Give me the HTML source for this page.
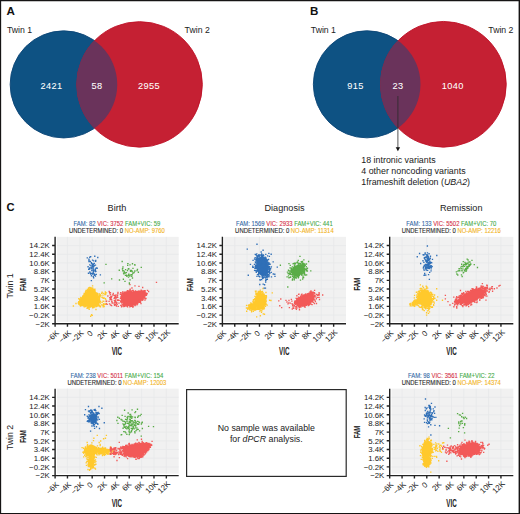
<!DOCTYPE html><html><head><meta charset="utf-8"><style>html,body{margin:0;padding:0;background:#fff;overflow:hidden}svg{display:block}text{font-family:"Liberation Sans", sans-serif}</style></head><body><svg width="520" height="514" viewBox="0 0 520 514"><rect x="0" y="0" width="520" height="514" fill="#fff"/><defs><clipPath id="cpa"><circle cx="139.6" cy="84.4" r="63.2"/></clipPath></defs><circle cx="63.7" cy="84.4" r="53.55" fill="#0E5283" stroke="#0B4576" stroke-width="0.9"/><circle cx="139.6" cy="84.4" r="62.75" fill="#C52033" stroke="#BE0F25" stroke-width="0.9"/><circle cx="63.7" cy="84.4" r="53.55" fill="#6A335B" clip-path="url(#cpa)"/><defs><clipPath id="cpb"><circle cx="443.4" cy="84.3" r="63.3"/></clipPath></defs><circle cx="366.9" cy="84.3" r="53.55" fill="#0E5283" stroke="#0B4576" stroke-width="0.9"/><circle cx="443.4" cy="84.3" r="62.849999999999994" fill="#C52033" stroke="#BE0F25" stroke-width="0.9"/><circle cx="366.9" cy="84.3" r="53.55" fill="#6A335B" clip-path="url(#cpb)"/><text x="6.5" y="14.8" font-size="11.6" fill="#111" text-anchor="start" font-weight="bold" >A</text><text x="310" y="15.2" font-size="11.6" fill="#111" text-anchor="start" font-weight="bold" >B</text><text x="6.5" y="210.7" font-size="11.2" fill="#111" text-anchor="start" font-weight="bold" >C</text><text transform="translate(7 33.2) scale(0.88 1)" font-size="9.9" fill="#222" text-anchor="start">Twin 1</text><text transform="translate(184.6 33.1) scale(0.88 1)" font-size="9.9" fill="#222" text-anchor="start">Twin 2</text><text transform="translate(310.8 33.1) scale(0.88 1)" font-size="9.9" fill="#222" text-anchor="start">Twin 1</text><text transform="translate(488.3 33) scale(0.88 1)" font-size="9.9" fill="#222" text-anchor="start">Twin 2</text><text x="51.55" y="89.05" font-size="9.2" fill="#fff" text-anchor="middle" font-weight="normal" letter-spacing="0.4" stroke="#fff" stroke-width="0.06">2421</text><text x="96.95" y="89.05" font-size="9.2" fill="#fff" text-anchor="middle" font-weight="normal" letter-spacing="0.4" stroke="#fff" stroke-width="0.06">58</text><text x="148.9" y="89.05" font-size="9.2" fill="#fff" text-anchor="middle" font-weight="normal" letter-spacing="0.4" stroke="#fff" stroke-width="0.06">2955</text><text x="355.5" y="89.05" font-size="9.2" fill="#fff" text-anchor="middle" font-weight="normal" letter-spacing="0.4" stroke="#fff" stroke-width="0.06">915</text><text x="398" y="89.05" font-size="9.2" fill="#fff" text-anchor="middle" font-weight="normal" letter-spacing="0.4" stroke="#fff" stroke-width="0.06">23</text><text x="452.85" y="89.05" font-size="9.2" fill="#fff" text-anchor="middle" font-weight="normal" letter-spacing="0.4" stroke="#fff" stroke-width="0.06">1040</text><path d="M397.9 96V148" stroke="#2a2a2a" stroke-width="0.8"/><path d="M395.7 147.2L400.1 147.2L397.9 151.2Z" fill="#111"/><text transform="translate(361.3 163.1) scale(0.942 1)" font-size="9.4" fill="#1a1a1a" text-anchor="start">18 intronic variants</text><text transform="translate(361.3 174.2) scale(0.942 1)" font-size="9.4" fill="#1a1a1a" text-anchor="start">4 other noncoding variants</text><text transform="translate(361.3 185.1) scale(0.942 1)" font-size="9.4" fill="#1a1a1a" text-anchor="start">1frameshift deletion (<tspan font-style="italic">UBA2</tspan>)</text><text transform="translate(117 210.8) scale(0.95 1)" font-size="9.6" fill="#222" text-anchor="middle">Birth</text><text transform="translate(284.5 210.8) scale(0.95 1)" font-size="9.6" fill="#222" text-anchor="middle">Diagnosis</text><text transform="translate(461.2 210.8) scale(0.95 1)" font-size="9.6" fill="#222" text-anchor="middle">Remission</text><text transform="translate(13.3 285.9) rotate(-90) scale(0.88 1)" font-size="9.9" fill="#222" text-anchor="middle">Twin 1</text><text transform="translate(13.3 437.5) rotate(-90) scale(0.88 1)" font-size="9.9" fill="#222" text-anchor="middle">Twin 2</text><rect x="57" y="236.86" width="121.7" height="84.94" fill="#F1F1F1"/><path d="M67.46 236.86V321.8M79.82 236.86V321.8M92.18 236.86V321.8M104.54 236.86V321.8M116.9 236.86V321.8M129.26 236.86V321.8M141.62 236.86V321.8M153.98 236.86V321.8M166.34 236.86V321.8M57 315.11H178.7M57 306.41H178.7M57 297.72H178.7M57 289.02H178.7M57 280.33H178.7M57 271.64H178.7M57 262.94H178.7M57 254.25H178.7M57 245.55H178.7" stroke="#E7E8EA" stroke-width="0.8" fill="none"/><rect x="224.3" y="236.86" width="121.7" height="84.94" fill="#F1F1F1"/><path d="M234.76 236.86V321.8M247.12 236.86V321.8M259.48 236.86V321.8M271.84 236.86V321.8M284.2 236.86V321.8M296.56 236.86V321.8M308.92 236.86V321.8M321.28 236.86V321.8M333.64 236.86V321.8M224.3 315.11H346M224.3 306.41H346M224.3 297.72H346M224.3 289.02H346M224.3 280.33H346M224.3 271.64H346M224.3 262.94H346M224.3 254.25H346M224.3 245.55H346" stroke="#E7E8EA" stroke-width="0.8" fill="none"/><rect x="391.6" y="236.86" width="121.7" height="84.94" fill="#F1F1F1"/><path d="M402.06 236.86V321.8M414.42 236.86V321.8M426.78 236.86V321.8M439.14 236.86V321.8M451.5 236.86V321.8M463.86 236.86V321.8M476.22 236.86V321.8M488.58 236.86V321.8M500.94 236.86V321.8M391.6 315.11H513.3M391.6 306.41H513.3M391.6 297.72H513.3M391.6 289.02H513.3M391.6 280.33H513.3M391.6 271.64H513.3M391.6 262.94H513.3M391.6 254.25H513.3M391.6 245.55H513.3" stroke="#E7E8EA" stroke-width="0.8" fill="none"/><rect x="57" y="388.66" width="121.7" height="84.94" fill="#F1F1F1"/><path d="M67.46 388.66V473.6M79.82 388.66V473.6M92.18 388.66V473.6M104.54 388.66V473.6M116.9 388.66V473.6M129.26 388.66V473.6M141.62 388.66V473.6M153.98 388.66V473.6M166.34 388.66V473.6M57 466.91H178.7M57 458.21H178.7M57 449.52H178.7M57 440.82H178.7M57 432.13H178.7M57 423.44H178.7M57 414.74H178.7M57 406.05H178.7M57 397.35H178.7" stroke="#E7E8EA" stroke-width="0.8" fill="none"/><rect x="391.6" y="388.66" width="121.7" height="84.94" fill="#F1F1F1"/><path d="M402.06 388.66V473.6M414.42 388.66V473.6M426.78 388.66V473.6M439.14 388.66V473.6M451.5 388.66V473.6M463.86 388.66V473.6M476.22 388.66V473.6M488.58 388.66V473.6M500.94 388.66V473.6M391.6 466.91H513.3M391.6 458.21H513.3M391.6 449.52H513.3M391.6 440.82H513.3M391.6 432.13H513.3M391.6 423.44H513.3M391.6 414.74H513.3M391.6 406.05H513.3M391.6 397.35H513.3" stroke="#E7E8EA" stroke-width="0.8" fill="none"/><g fill="#FFC92C"><polygon points="87.6,290.3 90.8,287.8 94.2,290.2 97.5,295.2 99.0,300.2 98.3,305.2 94.5,306.8 90.0,307.0 87.3,306.5 80.6,305.2 78.3,302.8 80.6,299.3 83.8,295.0"/></g><path d="M97.7 305.7h1.35M97.8 299.5h1.35M87.8 306.9h1.35M95.3 305.9h1.35M87.4 308.0h1.35M92.0 288.6h1.35M92.0 307.7h1.35M95.4 293.2h1.35M99.8 301.3h1.35M79.1 302.9h1.35M82.0 296.2h1.35M90.7 289.6h1.35M86.8 306.1h1.35M89.9 305.9h1.35M79.8 300.9h1.35M96.6 293.7h1.35M94.7 292.5h1.35M85.7 292.4h1.35M86.4 290.8h1.35M96.4 295.0h1.35M99.2 301.0h1.35M92.1 288.2h1.35M79.1 300.1h1.35M80.8 304.7h1.35M89.5 287.6h1.35M83.6 306.9h1.35M95.9 292.8h1.35M88.5 307.0h1.35M97.1 298.4h1.35M87.8 290.2h1.35M91.0 288.8h1.35M79.7 300.4h1.35M97.1 295.8h1.35M97.9 301.3h1.35M80.3 305.3h1.35M96.5 305.1h1.35M89.8 288.0h1.35M84.4 306.3h1.35M82.6 295.8h1.35M89.0 306.2h1.35M97.1 303.1h1.35M84.3 306.2h1.35M80.2 304.7h1.35M79.8 305.7h1.35M97.4 296.5h1.35M98.0 297.3h1.35M83.5 293.3h1.35M85.2 293.6h1.35M98.8 301.7h1.35M81.5 298.0h1.35M79.3 301.0h1.35M91.1 288.0h1.35M96.4 305.9h1.35M90.9 306.4h1.35M98.6 300.5h1.35M94.2 291.7h1.35M98.4 302.8h1.35M82.1 297.7h1.35M88.3 306.4h1.35M90.2 306.6h1.35M88.8 306.4h1.35M94.4 291.8h1.35M82.1 305.1h1.35M79.9 299.1h1.35M94.0 307.0h1.35M92.3 290.1h1.35M92.1 307.0h1.35M96.5 294.4h1.35M86.4 308.3h1.35M94.3 290.4h1.35M88.0 290.7h1.35M78.1 301.6h1.35M97.6 298.9h1.35M80.9 305.2h1.35M82.0 296.7h1.35M97.1 303.9h1.35M96.6 306.1h1.35M82.8 305.8h1.35M89.3 288.9h1.35M80.1 306.0h1.35M88.0 289.5h1.35M86.8 289.3h1.35M84.8 306.6h1.35M95.4 294.7h1.35M96.8 304.5h1.35M78.1 298.7h1.35M85.4 290.4h1.35M93.6 291.9h1.35M78.5 303.0h1.35M97.8 300.5h1.35M90.8 289.3h1.35M78.0 304.0h1.35M77.8 302.7h1.35M97.4 305.4h1.35M98.8 300.4h1.35M98.3 305.7h1.35M97.5 303.0h1.35M83.2 294.8h1.35M95.6 306.6h1.35M97.2 295.1h1.35M90.0 307.0h1.35M86.2 306.0h1.35M78.9 303.6h1.35M82.5 305.6h1.35M95.0 305.8h1.35M98.3 296.3h1.35M90.4 288.0h1.35M79.3 302.0h1.35M79.8 299.7h1.35M97.7 303.9h1.35M84.8 291.8h1.35M92.9 307.5h1.35M96.4 294.7h1.35M88.9 290.4h1.35M93.3 289.6h1.35M78.9 304.7h1.35M83.6 293.8h1.35M85.1 291.8h1.35M90.7 306.0h1.35M79.1 299.1h1.35M97.0 297.5h1.35M98.7 298.2h1.35M95.7 302.2h1.35M84.8 295.1h1.35M80.5 298.7h1.35M80.1 299.7h1.35M87.2 289.5h1.35M98.0 304.8h1.35M93.0 306.1h1.35M84.3 293.5h1.35M83.3 295.7h1.35M87.0 289.5h1.35M97.8 301.5h1.35M84.8 293.2h1.35M87.6 289.2h1.35M97.3 301.0h1.35M96.3 305.4h1.35M92.2 306.1h1.35M78.0 302.2h1.35M79.0 299.5h1.35M80.1 297.5h1.35M77.7 303.2h1.35M98.9 299.1h1.35M92.3 289.0h1.35M85.2 291.1h1.35M93.1 290.3h1.35M96.5 293.5h1.35M86.4 290.3h1.35M80.3 298.0h1.35M82.9 295.9h1.35M86.7 307.7h1.35M80.0 304.4h1.35M92.2 290.2h1.35M94.2 290.9h1.35M96.7 301.6h1.35M94.2 289.1h1.35M97.0 298.7h1.35M97.8 302.8h1.35M89.1 287.3h1.35M87.9 287.9h1.35M88.6 307.7h1.35M92.5 291.0h1.35M82.2 296.5h1.35M105.2 299.8h1.35M100.2 295.3h1.35M105.6 303.3h1.35M103.5 306.6h1.35M99.8 306.8h1.35M99.5 296.1h1.35M104.2 294.5h1.35M104.7 293.3h1.35M104.4 293.6h1.35M102.1 305.1h1.35M105.0 294.6h1.35M101.4 302.4h1.35M102.4 301.1h1.35M102.9 304.6h1.35M102.6 293.4h1.35M98.8 295.5h1.35M99.2 306.5h1.35M103.3 303.7h1.35M98.8 293.8h1.35M102.1 297.5h1.35M101.4 292.2h1.35M100.9 293.3h1.35M105.0 304.2h1.35M104.7 292.0h1.35M103.1 301.3h1.35M102.6 298.3h1.35M103.6 304.8h1.35M97.2 293.8h1.35M99.7 306.1h1.35M100.8 304.9h1.35M104.8 298.7h1.35M98.7 305.1h1.35M102.5 306.7h1.35M97.3 304.8h1.35M99.3 296.6h1.35M102.8 304.0h1.35M101.3 297.2h1.35M102.3 295.1h1.35M103.5 298.0h1.35M104.8 304.4h1.35M99.7 303.0h1.35M102.6 305.5h1.35M99.5 294.6h1.35M99.4 296.9h1.35M105.8 292.9h1.35M72.7 306.0h1.35M91.9 285.9h1.35M90.9 314.7h1.35M90.0 316.2h1.35M88.5 309.4h1.35M91.6 315.4h1.35M75.3 303.5h1.35M95.3 309.5h1.35" stroke="#FFC92C" stroke-width="1.35" fill="none"/><g fill="#F25958"><polygon points="122.7,292.8 130.4,291.5 138.1,291.3 144.2,291.4 146.8,293.5 144.2,297.8 139.6,300.9 137.3,303.2 135.8,305.4 128.8,306.1 123.5,305.8 122.3,301.7 121.9,296.3"/></g><path d="M110.9 299.7h1.35M110.2 296.6h1.35M111.1 296.3h1.35M108.9 303.9h1.35M111.3 301.3h1.35M109.0 297.6h1.35M110.6 305.3h1.35M109.4 298.0h1.35M105.5 301.3h1.35M111.8 294.8h1.35M110.1 299.5h1.35M111.1 301.6h1.35M112.2 302.8h1.35M112.6 293.3h1.35M106.0 301.1h1.35M109.8 304.8h1.35M111.5 303.0h1.35M105.7 303.9h1.35M110.9 305.6h1.35M109.4 299.6h1.35M109.8 292.7h1.35M109.6 294.7h1.35M107.2 296.0h1.35M113.0 295.0h1.35M108.4 301.3h1.35M106.5 304.4h1.35M110.2 298.2h1.35M109.0 293.0h1.35M110.7 297.5h1.35M114.5 301.3h1.35M113.6 304.0h1.35M120.6 297.6h1.35M120.1 305.4h1.35M113.7 300.4h1.35M115.5 303.3h1.35M119.7 294.2h1.35M120.8 295.9h1.35M120.0 292.6h1.35M117.7 300.2h1.35M114.9 297.7h1.35M117.1 297.4h1.35M121.3 306.3h1.35M114.6 304.5h1.35M121.2 294.7h1.35M114.6 296.7h1.35M114.0 297.7h1.35M115.9 303.4h1.35M114.1 302.3h1.35M119.2 300.3h1.35M115.2 301.7h1.35M116.8 299.9h1.35M117.0 300.2h1.35M121.6 298.0h1.35M121.3 298.4h1.35M122.0 291.8h1.35M115.9 297.1h1.35M119.8 298.4h1.35M120.9 306.7h1.35M114.5 296.0h1.35M121.5 297.8h1.35M113.9 305.4h1.35M115.0 300.0h1.35M120.2 302.1h1.35M116.0 297.3h1.35M121.5 294.1h1.35M117.3 299.9h1.35M116.5 304.4h1.35M115.8 306.0h1.35M116.1 302.6h1.35M117.3 292.5h1.35M113.5 298.4h1.35M120.2 296.9h1.35M115.3 298.3h1.35M118.3 303.1h1.35M115.7 302.8h1.35M116.9 295.2h1.35M114.1 295.6h1.35M116.6 295.9h1.35M115.5 305.1h1.35M117.2 293.5h1.35M117.6 306.4h1.35M115.3 294.8h1.35M114.2 301.7h1.35M130.2 291.3h1.35M127.8 290.9h1.35M122.8 302.5h1.35M122.2 304.7h1.35M137.7 302.0h1.35M141.4 299.1h1.35M132.0 290.3h1.35M136.1 291.6h1.35M120.0 301.4h1.35M141.5 300.3h1.35M129.3 289.6h1.35M126.9 305.4h1.35M126.3 293.3h1.35M123.4 305.7h1.35M141.9 298.7h1.35M122.3 299.7h1.35M123.6 292.2h1.35M138.8 302.2h1.35M121.6 294.1h1.35M132.9 291.6h1.35M140.0 291.1h1.35M130.6 292.1h1.35M138.2 291.5h1.35M146.5 293.6h1.35M125.4 292.5h1.35M129.2 306.7h1.35M126.6 292.1h1.35M140.5 290.2h1.35M141.0 291.7h1.35M134.3 292.4h1.35M137.3 302.4h1.35M130.8 305.7h1.35M140.9 299.8h1.35M144.4 290.6h1.35M145.3 294.7h1.35M121.8 301.1h1.35M141.3 298.0h1.35M129.3 305.8h1.35M121.5 302.9h1.35M121.4 304.9h1.35M140.2 291.2h1.35M134.8 290.9h1.35M128.9 292.2h1.35M121.3 296.9h1.35M144.2 298.2h1.35M143.4 291.7h1.35M126.1 306.1h1.35M143.0 291.0h1.35M131.0 306.3h1.35M132.3 306.3h1.35M126.8 306.3h1.35M132.5 290.4h1.35M135.6 292.2h1.35M145.8 295.0h1.35M122.7 305.0h1.35M130.7 305.3h1.35M120.9 295.0h1.35M144.3 294.7h1.35M122.2 293.7h1.35M121.3 299.4h1.35M124.8 292.1h1.35M127.2 292.0h1.35M137.0 302.9h1.35M141.0 292.3h1.35M129.9 306.2h1.35M128.6 292.0h1.35M124.8 293.1h1.35M130.8 304.3h1.35M121.2 301.0h1.35M132.5 306.7h1.35M120.5 298.2h1.35M141.1 290.9h1.35M141.5 291.1h1.35M143.0 297.6h1.35M139.6 300.3h1.35M146.0 294.4h1.35M131.4 290.7h1.35M143.8 290.6h1.35M141.8 297.7h1.35M138.9 301.8h1.35M145.3 294.1h1.35M126.7 290.6h1.35M136.3 304.7h1.35M125.9 292.1h1.35M136.7 302.8h1.35M129.7 290.9h1.35M144.4 292.5h1.35M125.9 292.3h1.35M129.2 290.8h1.35M126.6 293.2h1.35M135.8 303.4h1.35M125.7 291.9h1.35M121.2 303.1h1.35M141.2 290.6h1.35M121.5 293.4h1.35M123.1 305.9h1.35M124.2 305.0h1.35M141.6 298.3h1.35M139.7 302.2h1.35M142.3 299.9h1.35M145.9 293.2h1.35M125.1 305.1h1.35M123.7 292.4h1.35M142.7 291.8h1.35M124.3 306.2h1.35M126.9 306.7h1.35M142.5 299.0h1.35M144.4 291.6h1.35M121.3 293.1h1.35M145.0 293.3h1.35M134.1 304.4h1.35M143.6 296.8h1.35M135.0 291.5h1.35M144.0 296.0h1.35M139.9 301.1h1.35M121.2 302.2h1.35M140.7 299.3h1.35M127.2 292.2h1.35M120.9 300.0h1.35M120.9 299.1h1.35M123.3 294.5h1.35M121.5 299.3h1.35M132.0 307.0h1.35M137.1 303.6h1.35M136.5 304.4h1.35M137.5 291.4h1.35M123.1 306.6h1.35M139.3 291.3h1.35M123.1 293.4h1.35M127.6 293.1h1.35M146.0 293.6h1.35M138.2 299.9h1.35M144.0 297.6h1.35M136.7 291.5h1.35M144.5 295.7h1.35M122.3 300.7h1.35M130.1 292.4h1.35M134.4 305.5h1.35M138.3 291.0h1.35M140.1 292.4h1.35M139.9 291.6h1.35M133.0 291.3h1.35M133.7 292.1h1.35M142.5 291.4h1.35M131.8 305.4h1.35M129.8 291.6h1.35M128.0 304.9h1.35M138.5 301.6h1.35M140.0 299.6h1.35M121.6 296.5h1.35M137.9 292.2h1.35M145.6 295.3h1.35M155.8 282.3h1.35M129.3 284.6h1.35M134.3 285.8h1.35M138.3 286.3h1.35M142.0 287.5h1.35M108.5 291.5h1.35M146.8 290.3h1.35M147.9 291.5h1.35M129.5 289.2h1.35M131.3 288.0h1.35M145.3 298.5h1.35M144.3 300.0h1.35M140.3 303.5h1.35" stroke="#F25958" stroke-width="1.35" fill="none"/><path d="M89.1 257.2h1.35M92.4 267.7h1.35M89.5 273.0h1.35M90.0 256.6h1.35M93.6 275.2h1.35M93.1 266.5h1.35M94.7 270.2h1.35M92.6 270.1h1.35M90.0 274.1h1.35M88.3 260.2h1.35M92.2 273.4h1.35M90.9 267.1h1.35M91.9 265.9h1.35M92.7 264.6h1.35M94.8 265.1h1.35M91.9 264.9h1.35M89.7 261.5h1.35M90.1 273.4h1.35M87.4 266.7h1.35M96.5 268.2h1.35M91.0 268.9h1.35M86.6 257.8h1.35M92.7 271.8h1.35M92.7 271.1h1.35M90.5 268.7h1.35M95.1 260.4h1.35M93.6 263.4h1.35M89.1 271.9h1.35M95.2 271.3h1.35M90.4 267.5h1.35M93.8 274.3h1.35M97.1 257.5h1.35M91.1 263.9h1.35M90.7 280.6h1.35M92.6 276.6h1.35M95.8 267.9h1.35M88.9 267.8h1.35M95.0 261.3h1.35M94.3 269.9h1.35M94.7 268.9h1.35M90.9 263.4h1.35M93.2 273.7h1.35M93.0 277.9h1.35M92.0 263.9h1.35M92.8 264.1h1.35M93.1 260.8h1.35M88.0 269.2h1.35M93.5 265.5h1.35M99.7 274.9h1.35M95.6 268.0h1.35M92.5 269.0h1.35M91.9 260.1h1.35M94.1 256.2h1.35M88.3 261.5h1.35M91.0 273.4h1.35M90.3 265.6h1.35M88.3 259.2h1.35M87.8 273.2h1.35M94.2 270.7h1.35M89.1 264.8h1.35M94.8 276.1h1.35M91.7 274.1h1.35M95.6 274.4h1.35M92.5 272.7h1.35M92.2 266.9h1.35M88.7 269.0h1.35M90.7 262.7h1.35M94.2 275.0h1.35M90.8 275.7h1.35M91.1 270.6h1.35M94.7 271.5h1.35" stroke="#2F6FB7" stroke-width="1.35" fill="none"/><path d="M124.3 281.3h1.35M132.2 273.2h1.35M121.8 269.0h1.35M122.1 268.3h1.35M130.9 270.8h1.35M125.7 272.6h1.35M127.0 265.4h1.35M129.9 271.3h1.35M123.7 272.0h1.35M118.8 280.0h1.35M128.5 275.1h1.35M124.8 275.3h1.35M127.1 263.6h1.35M128.7 282.8h1.35M128.1 274.2h1.35M131.8 278.0h1.35M127.3 263.6h1.35M131.1 276.4h1.35M129.3 264.8h1.35M127.4 269.1h1.35M128.0 269.0h1.35M133.4 272.5h1.35M122.3 266.9h1.35M124.6 273.1h1.35M122.1 270.7h1.35M131.5 271.6h1.35M122.7 279.2h1.35M140.6 267.4h1.35M123.1 270.9h1.35M131.8 263.7h1.35M131.1 270.6h1.35M134.2 271.0h1.35M124.9 269.6h1.35M129.8 270.5h1.35M121.5 261.5h1.35M128.1 268.6h1.35M136.8 269.3h1.35M136.4 270.5h1.35M130.7 270.5h1.35M129.2 276.0h1.35M134.3 265.1h1.35M126.2 276.2h1.35M130.3 274.7h1.35M127.8 277.1h1.35M126.8 270.6h1.35M118.6 270.2h1.35M129.4 279.9h1.35M128.7 283.9h1.35M122.9 273.1h1.35M132.3 268.3h1.35M125.7 275.1h1.35M131.4 274.7h1.35M137.7 272.2h1.35M134.1 264.7h1.35M123.2 273.7h1.35M127.5 275.3h1.35M124.4 272.8h1.35M105.3 264.4h1.35M111.0 278.8h1.35M103.5 282.9h1.35" stroke="#59AC46" stroke-width="1.35" fill="none"/><g fill="#FFC92C"><ellipse cx="260.5" cy="301.2" rx="5.46" ry="7.98" transform="rotate(0.0 260.5 301.2)"/><ellipse cx="253.0" cy="306.5" rx="3.95" ry="3.23" transform="rotate(-25.0 253.0 306.5)"/></g><path d="M255.3 306.4h1.35M265.3 292.5h1.35M253.4 302.2h1.35M262.3 292.6h1.35M256.4 294.2h1.35M259.1 311.1h1.35M264.8 304.3h1.35M259.2 309.2h1.35M255.0 291.8h1.35M254.8 301.3h1.35M257.7 294.5h1.35M254.8 302.7h1.35M258.2 294.1h1.35M259.2 292.1h1.35M262.6 295.2h1.35M254.0 305.1h1.35M261.4 309.3h1.35M253.9 303.0h1.35M255.1 299.5h1.35M265.5 301.2h1.35M258.0 292.7h1.35M264.3 304.8h1.35M264.7 301.3h1.35M256.5 295.8h1.35M261.2 293.8h1.35M265.4 297.3h1.35M259.6 292.2h1.35M263.8 305.4h1.35M257.6 291.5h1.35M263.9 295.9h1.35M256.8 307.7h1.35M254.8 300.3h1.35M257.5 309.1h1.35M264.8 297.7h1.35M254.8 303.7h1.35M262.6 308.3h1.35M265.6 298.0h1.35M259.7 293.3h1.35M265.7 295.6h1.35M260.5 308.5h1.35M265.1 302.9h1.35M263.5 294.2h1.35M257.8 309.4h1.35M255.1 296.9h1.35M255.2 297.3h1.35M260.0 291.7h1.35M259.6 308.7h1.35M260.5 292.3h1.35M257.3 293.5h1.35M261.6 307.8h1.35M260.8 312.4h1.35M254.4 301.5h1.35M254.7 299.4h1.35M257.5 307.5h1.35M255.1 304.2h1.35M257.0 294.9h1.35M254.3 299.8h1.35M254.1 298.7h1.35M264.9 299.2h1.35M255.3 293.3h1.35M262.1 308.0h1.35M254.3 296.3h1.35M263.7 308.0h1.35M257.4 293.7h1.35M265.0 301.7h1.35M264.8 306.4h1.35M255.5 291.1h1.35M265.1 304.9h1.35M261.1 308.6h1.35M259.7 308.3h1.35M265.3 299.9h1.35M265.5 304.1h1.35M266.6 305.1h1.35M255.1 309.9h1.35M262.2 308.8h1.35M254.8 298.8h1.35M262.2 293.4h1.35M256.2 306.1h1.35M263.2 306.8h1.35M261.2 310.8h1.35M262.9 295.4h1.35M264.6 295.7h1.35M254.9 308.3h1.35M263.5 294.7h1.35M260.2 310.6h1.35M256.7 309.2h1.35M258.6 293.7h1.35M255.0 300.3h1.35M256.1 294.7h1.35M265.0 303.6h1.35M261.4 291.7h1.35M255.3 294.6h1.35M254.1 302.6h1.35M262.4 294.7h1.35M256.4 295.3h1.35M263.0 307.2h1.35M254.8 291.2h1.35M253.3 301.9h1.35M263.1 308.3h1.35M259.0 291.3h1.35M259.9 293.9h1.35M259.7 290.1h1.35M255.8 305.2h1.35M264.1 296.6h1.35M263.2 309.1h1.35M253.3 303.9h1.35M256.4 293.1h1.35M258.8 308.3h1.35M265.8 296.5h1.35M258.5 308.7h1.35M258.6 308.2h1.35M254.1 301.8h1.35M262.6 313.9h1.35M252.9 299.7h1.35M252.8 300.0h1.35M264.3 297.5h1.35M261.8 291.3h1.35M249.1 305.2h1.35M247.1 308.0h1.35M252.5 302.2h1.35M248.6 308.7h1.35M249.6 304.5h1.35M254.1 309.8h1.35M255.9 304.4h1.35M254.5 309.5h1.35M254.2 310.2h1.35M250.2 310.1h1.35M248.3 306.9h1.35M246.0 311.2h1.35M248.9 307.2h1.35M253.4 309.4h1.35M248.3 304.9h1.35M256.8 305.9h1.35M251.3 303.8h1.35M255.2 308.4h1.35M252.3 301.3h1.35M252.7 311.2h1.35M247.8 305.6h1.35M250.4 304.1h1.35M257.2 307.1h1.35M248.9 306.9h1.35M248.0 305.4h1.35M252.5 309.6h1.35M247.1 309.2h1.35M249.0 309.8h1.35M250.2 302.9h1.35M254.5 303.0h1.35M255.7 305.0h1.35M248.2 307.4h1.35M257.5 308.2h1.35M255.6 303.5h1.35M247.5 308.1h1.35M250.9 311.8h1.35M254.0 308.8h1.35M245.9 305.4h1.35M256.3 309.4h1.35M255.0 308.6h1.35M256.1 307.7h1.35M251.0 310.5h1.35M256.8 309.4h1.35M249.0 306.1h1.35M262.3 288.5h1.35M271.6 292.8h1.35M268.9 300.2h1.35M256.0 316.9h1.35M259.7 315.7h1.35M263.8 314.2h1.35M270.3 300.5h1.35M245.8 308.0h1.35M257.8 292.5h1.35" stroke="#FFC92C" stroke-width="1.35" fill="none"/><g fill="#F25958"><ellipse cx="305.2" cy="300.1" rx="10.09" ry="5.25" transform="rotate(-24.0 305.2 300.1)"/></g><path d="M304.7 294.5h1.35M290.7 299.3h1.35M312.0 292.2h1.35M296.0 300.6h1.35M309.7 303.9h1.35M288.1 302.9h1.35M295.1 302.6h1.35M291.4 303.7h1.35M298.8 309.7h1.35M309.9 292.8h1.35M314.2 300.1h1.35M309.8 302.3h1.35M302.9 295.8h1.35M296.2 306.0h1.35M309.4 291.8h1.35M296.0 301.6h1.35M307.0 304.1h1.35M295.9 302.2h1.35M313.8 292.7h1.35M296.5 301.0h1.35M295.7 309.3h1.35M310.1 302.4h1.35M304.1 305.8h1.35M309.3 302.9h1.35M316.6 294.9h1.35M299.9 297.4h1.35M311.4 294.3h1.35M318.4 292.7h1.35M298.6 307.7h1.35M310.6 292.0h1.35M308.4 293.2h1.35M303.2 294.9h1.35M295.5 298.3h1.35M311.8 300.5h1.35M310.3 292.7h1.35M304.0 305.3h1.35M301.6 295.8h1.35M307.8 304.2h1.35M298.3 306.4h1.35M301.3 294.1h1.35M306.8 294.5h1.35M303.9 306.8h1.35M308.1 305.3h1.35M311.4 294.6h1.35M299.9 296.2h1.35M308.6 304.6h1.35M300.2 306.7h1.35M310.2 304.0h1.35M289.6 303.1h1.35M297.9 294.4h1.35M312.5 292.2h1.35M294.6 301.6h1.35M312.2 300.3h1.35M318.8 299.5h1.35M322.0 295.0h1.35M305.4 305.1h1.35M309.9 294.7h1.35M299.7 305.9h1.35M295.3 302.1h1.35M294.0 301.8h1.35M312.9 294.9h1.35M309.4 303.4h1.35M318.0 294.7h1.35M318.3 295.4h1.35M311.5 295.0h1.35M313.8 295.4h1.35M294.8 304.2h1.35M300.2 296.8h1.35M305.9 305.3h1.35M313.6 296.6h1.35M296.7 298.4h1.35M312.9 302.3h1.35M297.9 306.6h1.35M311.3 301.5h1.35M311.2 293.1h1.35M311.6 294.2h1.35M305.2 293.8h1.35M313.1 299.2h1.35M311.5 301.2h1.35M310.6 301.5h1.35M313.9 296.5h1.35M293.8 303.2h1.35M310.3 290.9h1.35M300.2 307.1h1.35M304.5 307.1h1.35M303.4 295.3h1.35M298.9 297.6h1.35M295.4 300.9h1.35M294.0 305.1h1.35M302.2 306.0h1.35M311.8 301.4h1.35M315.8 303.5h1.35M310.2 294.5h1.35M296.2 308.1h1.35M312.2 294.8h1.35M313.0 298.4h1.35M309.8 294.2h1.35M310.0 294.2h1.35M294.4 300.9h1.35M295.3 303.4h1.35M298.5 298.3h1.35M296.5 299.4h1.35M312.3 299.6h1.35M314.1 295.8h1.35M305.2 294.5h1.35M296.5 304.2h1.35M312.6 293.0h1.35M292.0 305.2h1.35M305.9 304.7h1.35M296.1 299.2h1.35M314.1 293.6h1.35M291.2 301.1h1.35M296.1 307.0h1.35M298.3 294.1h1.35M300.8 294.6h1.35M318.5 294.2h1.35M316.7 295.2h1.35M315.7 298.7h1.35M313.7 303.6h1.35M315.3 297.1h1.35M318.4 297.4h1.35M307.7 305.6h1.35M315.9 294.4h1.35M311.2 295.0h1.35M292.3 306.9h1.35M303.5 305.6h1.35M312.3 294.1h1.35M309.7 293.3h1.35M313.8 299.8h1.35M292.6 304.9h1.35M301.3 295.3h1.35M304.7 305.0h1.35M299.4 306.7h1.35M293.6 306.0h1.35M313.9 290.3h1.35M294.0 302.2h1.35M299.1 306.5h1.35M296.7 305.4h1.35M303.9 295.1h1.35M314.4 295.5h1.35M308.2 303.9h1.35M312.2 302.1h1.35M304.4 295.0h1.35M308.2 293.9h1.35M307.1 293.6h1.35M317.0 297.3h1.35M296.2 295.7h1.35M312.8 298.0h1.35M297.2 298.6h1.35M311.4 304.6h1.35M314.7 301.5h1.35M297.9 306.5h1.35M294.5 308.1h1.35M297.9 297.1h1.35M295.1 306.6h1.35M301.8 305.8h1.35M292.7 308.2h1.35M278.1 300.9h1.35M280.1 299.0h1.35M279.1 305.7h1.35M281.0 307.6h1.35M285.3 300.4h1.35M287.3 303.8h1.35M288.7 307.6h1.35M291.6 309.0h1.35M286.3 302.0h1.35M288.3 300.5h1.35" stroke="#F25958" stroke-width="1.35" fill="none"/><g fill="#2F6FB7"><ellipse cx="262.5" cy="266.6" rx="5.77" ry="9.62" transform="rotate(-10.0 262.5 266.6)"/></g><path d="M259.5 257.5h1.35M265.3 259.3h1.35M267.0 274.1h1.35M267.0 276.1h1.35M266.9 271.3h1.35M263.9 284.7h1.35M263.8 277.1h1.35M266.1 262.4h1.35M267.2 268.6h1.35M260.2 274.6h1.35M255.4 270.5h1.35M261.9 257.2h1.35M265.6 276.3h1.35M265.6 260.1h1.35M262.3 277.2h1.35M267.8 271.3h1.35M258.0 258.4h1.35M255.3 266.0h1.35M266.7 272.5h1.35M263.5 258.9h1.35M268.3 269.0h1.35M257.9 272.9h1.35M267.4 267.9h1.35M265.5 261.4h1.35M267.1 269.2h1.35M267.3 263.3h1.35M266.1 276.7h1.35M264.3 257.3h1.35M257.5 258.9h1.35M258.0 272.7h1.35M256.5 268.9h1.35M262.3 275.2h1.35M252.9 267.3h1.35M264.2 258.5h1.35M259.7 273.5h1.35M266.8 259.8h1.35M259.4 273.6h1.35M258.0 274.6h1.35M269.4 270.0h1.35M256.8 274.6h1.35M259.8 258.4h1.35M258.6 273.2h1.35M255.5 268.2h1.35M262.4 250.2h1.35M267.5 272.3h1.35M265.8 259.6h1.35M262.6 254.8h1.35M266.7 279.2h1.35M257.8 270.7h1.35M259.3 257.4h1.35M256.2 259.9h1.35M254.2 268.4h1.35M266.2 260.6h1.35M268.6 271.3h1.35M258.5 256.0h1.35M256.6 258.9h1.35M261.0 279.6h1.35M260.8 255.3h1.35M268.4 264.2h1.35M258.2 271.5h1.35M256.0 261.1h1.35M259.4 257.1h1.35M256.9 270.0h1.35M254.9 259.9h1.35M261.3 257.2h1.35M263.2 257.8h1.35M257.1 271.2h1.35M259.4 255.1h1.35M264.5 257.1h1.35M268.8 266.7h1.35M265.1 275.2h1.35M264.7 259.9h1.35M256.9 269.7h1.35M266.5 275.2h1.35M258.7 258.4h1.35M256.4 262.0h1.35M262.3 256.0h1.35M259.0 273.0h1.35M254.6 266.4h1.35M261.6 277.5h1.35M256.7 262.3h1.35M267.7 266.5h1.35M265.6 273.6h1.35M265.1 259.3h1.35M256.5 264.5h1.35M261.6 274.9h1.35M267.3 274.6h1.35M257.0 260.1h1.35M267.9 259.5h1.35M255.0 266.7h1.35M256.6 266.6h1.35M262.4 258.3h1.35M254.5 257.7h1.35M256.6 257.3h1.35M257.4 255.7h1.35M261.0 256.3h1.35M262.6 278.1h1.35M257.8 274.2h1.35M265.6 279.7h1.35M266.5 277.4h1.35M264.5 277.6h1.35M259.3 279.7h1.35M266.9 270.1h1.35M265.3 257.8h1.35M260.9 257.9h1.35M268.4 267.4h1.35M255.7 259.6h1.35M270.6 272.3h1.35M254.9 262.8h1.35M254.7 261.8h1.35M257.2 257.9h1.35M252.4 260.3h1.35M267.5 271.6h1.35M266.7 275.7h1.35M259.3 257.1h1.35M266.7 262.5h1.35M261.9 278.2h1.35M272.6 274.0h1.35M268.7 271.9h1.35M261.0 253.9h1.35M255.8 260.4h1.35M267.1 265.2h1.35M269.0 268.3h1.35M263.6 276.8h1.35M256.8 261.8h1.35M269.4 264.2h1.35M254.6 254.4h1.35M268.4 275.9h1.35M259.1 276.7h1.35M264.7 260.0h1.35M254.8 270.5h1.35M262.7 257.3h1.35M266.7 261.8h1.35M262.9 258.8h1.35M268.0 266.2h1.35M256.6 265.3h1.35M261.9 256.2h1.35M255.6 271.0h1.35M268.7 270.0h1.35M260.1 257.4h1.35M269.1 273.2h1.35M257.0 260.9h1.35M262.9 255.4h1.35M266.8 260.3h1.35M256.2 257.7h1.35M268.4 262.9h1.35M256.0 265.1h1.35M265.4 258.6h1.35M261.9 276.1h1.35M264.8 275.9h1.35M255.9 258.8h1.35M260.4 255.0h1.35M268.4 266.6h1.35M268.2 276.9h1.35M256.3 276.4h1.35M261.5 276.3h1.35M265.5 273.7h1.35M254.6 268.2h1.35M255.9 263.1h1.35M261.4 275.5h1.35M256.3 262.8h1.35M256.7 263.3h1.35M256.7 256.8h1.35M267.0 264.7h1.35M258.0 276.1h1.35M264.1 258.7h1.35M270.7 266.9h1.35M266.9 255.9h1.35M258.3 263.5h1.35M268.2 253.4h1.35M263.1 268.8h1.35M259.6 280.1h1.35M255.6 272.2h1.35M263.8 262.2h1.35M268.7 256.4h1.35M261.2 270.3h1.35M263.5 267.2h1.35M265.7 267.2h1.35M261.7 255.2h1.35M256.1 267.3h1.35M256.1 253.9h1.35M261.6 267.5h1.35M256.3 244.2h1.35M269.4 269.5h1.35M263.0 270.6h1.35M265.0 280.2h1.35M255.5 255.0h1.35M272.5 261.9h1.35M262.5 284.1h1.35M266.1 263.1h1.35M260.9 266.4h1.35M253.9 259.1h1.35M265.8 264.9h1.35M258.2 256.6h1.35M258.0 271.0h1.35M259.9 262.2h1.35M257.7 263.9h1.35M276.6 267.1h1.35M260.5 260.7h1.35M262.7 261.7h1.35M264.0 273.3h1.35M265.0 282.0h1.35M253.8 264.3h1.35M263.1 274.9h1.35M253.9 270.4h1.35M266.4 266.0h1.35M259.1 284.5h1.35M270.5 254.2h1.35M265.1 278.1h1.35M263.8 263.6h1.35M274.1 274.2h1.35M267.9 263.9h1.35M264.4 262.3h1.35M260.0 269.2h1.35M266.4 273.4h1.35M260.8 263.9h1.35M263.7 265.5h1.35M258.3 261.0h1.35M256.7 268.1h1.35M256.2 256.0h1.35M262.9 260.7h1.35M262.9 269.8h1.35M252.1 267.3h1.35M252.7 267.4h1.35M262.9 275.3h1.35M268.3 274.5h1.35M252.1 266.1h1.35M264.4 268.2h1.35M258.2 254.7h1.35M274.3 276.3h1.35M260.7 270.4h1.35M264.8 288.1h1.35M263.7 272.7h1.35M261.4 271.6h1.35M270.0 268.5h1.35M263.4 270.8h1.35M263.8 265.9h1.35M254.9 265.1h1.35M249.8 264.3h1.35M267.2 262.1h1.35M260.7 272.7h1.35M259.4 261.0h1.35M261.1 258.9h1.35M260.5 252.0h1.35M259.1 261.2h1.35M266.3 268.4h1.35M264.5 257.3h1.35M258.7 260.1h1.35M262.7 263.0h1.35M259.6 270.2h1.35M259.5 265.5h1.35M247.6 275.2h1.35M270.8 276.9h1.35M260.1 263.1h1.35M263.5 288.1h1.35M257.3 261.6h1.35M265.1 264.3h1.35M263.9 269.1h1.35M246.6 249.1h1.35M258.8 263.4h1.35M265.1 254.4h1.35M262.9 272.6h1.35" stroke="#2F6FB7" stroke-width="1.35" fill="none"/><g fill="#59AC46"><ellipse cx="298.0" cy="270.3" rx="6.29" ry="5.12" transform="rotate(-35.0 298.0 270.3)"/></g><path d="M310.1 270.8h1.35M289.7 277.3h1.35M302.8 264.8h1.35M300.0 263.7h1.35M299.9 265.5h1.35M295.4 275.9h1.35M286.4 276.9h1.35M301.8 266.0h1.35M304.3 268.3h1.35M296.0 275.1h1.35M293.7 263.2h1.35M303.9 269.8h1.35M293.9 274.6h1.35M293.7 277.0h1.35M291.8 274.7h1.35M300.8 261.7h1.35M290.7 269.1h1.35M288.1 273.7h1.35M301.5 273.5h1.35M290.4 271.7h1.35M288.5 271.0h1.35M306.2 269.0h1.35M304.6 265.2h1.35M300.3 265.0h1.35M297.6 260.4h1.35M291.1 272.5h1.35M303.0 269.1h1.35M289.6 274.1h1.35M303.8 272.2h1.35M296.5 276.3h1.35M305.6 266.6h1.35M293.1 268.4h1.35M293.7 266.0h1.35M290.0 277.0h1.35M292.5 263.7h1.35M302.5 268.5h1.35M290.4 270.2h1.35M302.0 279.0h1.35M294.5 277.1h1.35M295.2 275.4h1.35M289.6 265.4h1.35M296.6 276.6h1.35M292.1 273.4h1.35M301.9 266.6h1.35M298.0 276.7h1.35M293.9 267.3h1.35M289.2 274.2h1.35M302.2 277.1h1.35M292.3 269.0h1.35M287.8 270.2h1.35M303.2 259.9h1.35M293.1 274.9h1.35M295.6 278.1h1.35M305.8 264.0h1.35M291.9 278.8h1.35M301.3 274.2h1.35M303.9 270.9h1.35M297.3 275.5h1.35M292.8 268.3h1.35M290.4 274.5h1.35M302.9 277.5h1.35M296.0 275.7h1.35M295.0 263.2h1.35M301.2 262.3h1.35M292.0 276.3h1.35M303.6 273.2h1.35M303.2 268.5h1.35M301.3 266.7h1.35M293.5 276.0h1.35M297.4 276.9h1.35M290.6 268.2h1.35M300.7 265.7h1.35M292.0 271.8h1.35M289.2 271.1h1.35M303.0 272.7h1.35M302.0 265.0h1.35M301.6 264.1h1.35M297.4 263.4h1.35M306.2 268.4h1.35M287.9 275.9h1.35M293.6 266.6h1.35M292.6 273.7h1.35M292.3 269.6h1.35M296.4 262.4h1.35M293.6 279.9h1.35M292.1 272.6h1.35M304.2 274.2h1.35M306.7 271.0h1.35M306.0 274.9h1.35M301.3 275.4h1.35M299.3 256.4h1.35M294.5 275.6h1.35M289.4 267.8h1.35M297.7 277.7h1.35M304.3 269.0h1.35M303.4 275.0h1.35M302.5 276.9h1.35M298.1 263.6h1.35M301.8 265.3h1.35M292.7 277.4h1.35M294.2 277.7h1.35M303.6 265.1h1.35M304.8 269.5h1.35M291.0 270.7h1.35M304.0 264.0h1.35M297.0 262.0h1.35M303.1 270.3h1.35M288.6 273.0h1.35M292.2 269.6h1.35M300.5 261.8h1.35M298.8 263.5h1.35M307.9 261.5h1.35M305.5 269.5h1.35M303.3 265.8h1.35M303.1 267.0h1.35M302.4 273.0h1.35M292.0 273.7h1.35M291.4 272.1h1.35M302.7 271.5h1.35M299.8 280.1h1.35M301.7 262.8h1.35M306.8 268.2h1.35M295.4 274.8h1.35M298.8 265.2h1.35M301.9 262.9h1.35M302.9 267.8h1.35M297.5 265.0h1.35M303.7 266.6h1.35M286.8 272.1h1.35M292.7 273.3h1.35M294.2 266.5h1.35M300.5 274.6h1.35M287.5 273.6h1.35M291.3 269.0h1.35M295.3 277.3h1.35M288.3 263.6h1.35M301.8 261.4h1.35M291.7 266.9h1.35M294.2 264.7h1.35M305.8 270.7h1.35M303.1 269.6h1.35M292.7 267.7h1.35M302.7 266.5h1.35M297.7 276.0h1.35M302.9 271.1h1.35M291.8 270.4h1.35M305.0 275.1h1.35M300.0 263.7h1.35M302.8 263.5h1.35M300.6 273.4h1.35M291.7 280.0h1.35M288.3 277.7h1.35M289.9 273.1h1.35M293.5 278.9h1.35M298.7 275.2h1.35M287.1 287.0h1.35M279.7 265.2h1.35" stroke="#59AC46" stroke-width="1.35" fill="none"/><g fill="#FFC92C"><ellipse cx="425.2" cy="298.7" rx="6.75" ry="8.49" transform="rotate(-20.0 425.2 298.7)"/><ellipse cx="415.0" cy="303.0" rx="3.35" ry="1.74" transform="rotate(-30.0 415.0 303.0)"/></g><path d="M430.3 303.5h1.35M432.7 299.6h1.35M420.5 304.0h1.35M418.0 296.8h1.35M421.7 305.7h1.35M421.6 290.7h1.35M428.3 305.6h1.35M418.6 300.1h1.35M428.9 306.6h1.35M428.7 304.9h1.35M416.8 296.4h1.35M423.0 290.6h1.35M417.1 293.1h1.35M419.1 293.9h1.35M426.2 287.0h1.35M424.9 308.9h1.35M424.4 290.6h1.35M416.3 294.9h1.35M422.6 309.8h1.35M419.6 303.0h1.35M429.9 294.7h1.35M417.5 300.0h1.35M417.9 295.5h1.35M420.0 288.3h1.35M432.1 296.3h1.35M417.2 293.9h1.35M432.5 299.0h1.35M426.4 291.3h1.35M422.2 307.8h1.35M415.3 299.9h1.35M417.5 291.6h1.35M432.9 298.5h1.35M428.4 308.2h1.35M419.8 303.7h1.35M431.7 298.6h1.35M432.6 301.8h1.35M418.8 291.5h1.35M426.3 307.3h1.35M421.8 309.5h1.35M430.0 292.2h1.35M418.0 295.9h1.35M418.6 293.5h1.35M428.0 291.1h1.35M424.1 306.5h1.35M427.1 306.1h1.35M427.1 308.4h1.35M426.4 308.3h1.35M420.6 307.2h1.35M420.2 290.8h1.35M422.0 290.8h1.35M430.7 300.1h1.35M421.4 291.0h1.35M424.8 306.6h1.35M430.9 293.0h1.35M421.7 308.2h1.35M417.3 300.4h1.35M424.7 307.9h1.35M428.9 305.1h1.35M428.8 311.9h1.35M425.2 290.0h1.35M429.7 306.6h1.35M424.3 290.0h1.35M430.5 297.2h1.35M427.2 291.4h1.35M429.9 304.3h1.35M418.4 306.5h1.35M416.3 295.7h1.35M426.2 291.6h1.35M419.0 302.6h1.35M423.6 307.0h1.35M423.4 306.3h1.35M429.9 295.3h1.35M428.5 309.1h1.35M428.1 307.3h1.35M430.4 304.1h1.35M422.3 305.3h1.35M421.7 306.0h1.35M430.3 296.7h1.35M417.7 298.4h1.35M430.5 301.7h1.35M430.4 294.6h1.35M428.5 292.6h1.35M419.4 293.2h1.35M422.8 287.7h1.35M416.0 297.5h1.35M431.1 302.5h1.35M421.4 305.5h1.35M424.2 307.9h1.35M431.7 300.6h1.35M420.9 306.6h1.35M418.8 300.5h1.35M431.1 298.7h1.35M416.7 299.6h1.35M423.6 310.6h1.35M418.2 302.8h1.35M429.4 306.3h1.35M418.6 301.1h1.35M417.0 300.4h1.35M424.2 290.7h1.35M433.0 305.4h1.35M421.1 288.4h1.35M416.5 300.0h1.35M419.7 302.5h1.35M429.0 308.2h1.35M418.4 301.5h1.35M431.4 306.6h1.35M418.2 303.3h1.35M430.8 300.3h1.35M421.1 307.3h1.35M430.2 304.6h1.35M420.9 291.9h1.35M413.9 295.3h1.35M418.2 291.1h1.35M418.8 303.1h1.35M424.7 306.2h1.35M425.7 288.4h1.35M426.4 290.3h1.35M424.8 307.4h1.35M433.1 297.3h1.35M418.6 292.8h1.35M422.8 290.2h1.35M417.1 299.1h1.35M427.1 291.0h1.35M427.3 306.2h1.35M417.8 297.6h1.35M417.7 298.6h1.35M433.9 295.0h1.35M419.3 301.7h1.35M429.3 293.3h1.35M430.1 296.2h1.35M431.4 294.9h1.35M430.7 294.3h1.35M418.0 294.6h1.35M418.0 298.8h1.35M428.6 305.8h1.35M434.2 298.5h1.35M427.4 292.3h1.35M433.0 296.5h1.35M431.0 299.6h1.35M419.5 288.7h1.35M417.4 301.4h1.35M419.3 307.3h1.35M423.9 289.9h1.35M423.9 291.0h1.35M421.3 289.7h1.35M416.9 297.8h1.35M430.8 301.4h1.35M429.3 294.3h1.35M427.9 310.0h1.35M432.1 294.3h1.35M425.8 306.2h1.35M417.6 303.6h1.35M417.6 305.4h1.35M433.6 303.1h1.35M418.5 294.0h1.35M419.1 290.9h1.35M424.0 307.6h1.35M422.2 291.0h1.35M420.0 290.3h1.35M431.8 307.4h1.35M428.4 293.6h1.35M424.1 289.1h1.35M431.1 300.9h1.35M426.9 310.8h1.35M428.7 293.5h1.35M430.8 307.4h1.35M421.8 304.9h1.35M433.1 301.8h1.35M419.7 284.9h1.35M415.7 292.2h1.35M427.0 288.1h1.35M419.0 303.9h1.35M427.8 313.4h1.35M432.9 304.7h1.35M431.2 295.0h1.35M413.7 297.8h1.35M425.9 306.3h1.35M412.6 302.3h1.35M413.5 305.4h1.35M414.1 301.3h1.35M414.0 300.2h1.35M410.2 303.5h1.35M412.8 305.9h1.35M409.6 305.7h1.35M416.1 304.8h1.35M413.4 300.7h1.35M414.0 306.2h1.35M415.5 300.6h1.35M411.4 304.4h1.35M412.9 301.7h1.35M412.1 304.9h1.35M409.6 305.0h1.35M415.5 304.7h1.35M416.4 305.0h1.35M414.9 304.8h1.35M412.4 305.1h1.35M409.1 304.0h1.35M417.2 302.7h1.35M412.2 302.9h1.35M417.0 301.4h1.35M416.6 302.9h1.35M415.9 300.7h1.35M411.8 302.3h1.35M417.2 302.5h1.35M416.5 303.7h1.35M413.3 305.8h1.35M411.1 305.8h1.35M416.0 300.8h1.35M436.0 288.7h1.35M437.0 296.8h1.35M436.0 300.2h1.35M441.8 300.2h1.35M425.9 312.7h1.35M425.9 315.1h1.35M422.1 286.2h1.35M425.5 286.2h1.35" stroke="#FFC92C" stroke-width="1.35" fill="none"/><g fill="#F25958"><ellipse cx="471.5" cy="296.4" rx="14.82" ry="5.28" transform="rotate(-22.5 471.5 296.4)"/></g><path d="M499.4 285.4h1.35M468.2 302.7h1.35M453.1 297.1h1.35M454.3 303.8h1.35M486.6 291.1h1.35M465.2 291.5h1.35M480.0 296.7h1.35M467.3 303.2h1.35M458.9 297.5h1.35M479.4 288.5h1.35M463.4 294.0h1.35M454.9 300.5h1.35M471.4 301.7h1.35M483.6 294.5h1.35M471.1 290.8h1.35M485.2 291.2h1.35M482.4 294.5h1.35M480.8 288.0h1.35M456.4 300.8h1.35M475.9 299.2h1.35M463.4 305.1h1.35M462.2 306.6h1.35M480.3 287.2h1.35M475.7 287.0h1.35M473.8 290.2h1.35M478.7 289.4h1.35M455.5 298.2h1.35M468.0 291.6h1.35M471.0 304.5h1.35M472.3 290.3h1.35M458.7 300.4h1.35M477.7 289.1h1.35M486.3 290.4h1.35M456.9 304.0h1.35M475.8 299.7h1.35M484.3 292.1h1.35M473.7 289.7h1.35M464.9 304.5h1.35M480.1 288.2h1.35M473.8 301.2h1.35M475.7 299.7h1.35M460.7 302.9h1.35M489.3 289.3h1.35M475.5 289.8h1.35M483.8 290.7h1.35M486.8 288.2h1.35M473.9 300.4h1.35M476.3 300.1h1.35M455.7 303.4h1.35M477.7 289.7h1.35M467.8 304.4h1.35M465.7 303.3h1.35M468.8 303.5h1.35M483.0 290.5h1.35M461.4 294.8h1.35M453.9 305.0h1.35M463.9 304.3h1.35M456.0 299.8h1.35M488.3 292.2h1.35M464.8 303.9h1.35M486.3 288.9h1.35M468.4 291.3h1.35M463.7 294.3h1.35M476.6 289.9h1.35M485.3 288.1h1.35M482.9 291.2h1.35M470.2 301.9h1.35M458.0 302.4h1.35M456.1 301.9h1.35M480.2 297.8h1.35M481.6 297.2h1.35M465.9 292.9h1.35M457.8 302.0h1.35M467.0 291.5h1.35M463.1 293.1h1.35M472.6 289.9h1.35M457.6 303.6h1.35M488.4 289.2h1.35M460.2 295.2h1.35M482.9 288.5h1.35M472.6 300.7h1.35M484.2 289.5h1.35M484.3 291.4h1.35M479.1 297.3h1.35M486.1 285.2h1.35M458.6 301.6h1.35M485.2 293.7h1.35M484.1 288.5h1.35M473.3 301.6h1.35M482.7 297.1h1.35M482.4 297.9h1.35M470.0 290.4h1.35M491.1 286.9h1.35M480.9 298.2h1.35M474.3 302.2h1.35M457.7 301.0h1.35M466.3 303.4h1.35M458.6 295.8h1.35M484.4 290.8h1.35M491.0 288.4h1.35M456.1 307.0h1.35M483.3 292.2h1.35M484.1 287.3h1.35M471.2 288.8h1.35M460.0 302.8h1.35M459.8 290.5h1.35M486.6 286.8h1.35M455.4 304.1h1.35M491.7 286.6h1.35M458.5 300.4h1.35M456.0 306.4h1.35M457.8 302.9h1.35M481.0 295.8h1.35M479.7 288.8h1.35M479.2 298.8h1.35M465.5 305.2h1.35M469.6 303.1h1.35M463.8 294.5h1.35M489.4 288.2h1.35M470.5 302.8h1.35M457.8 299.9h1.35M456.7 302.1h1.35M485.6 294.4h1.35M462.4 293.5h1.35M461.8 305.6h1.35M463.0 292.7h1.35M454.6 301.1h1.35M481.7 283.6h1.35M465.4 305.7h1.35M460.8 295.9h1.35M469.9 302.3h1.35M481.7 287.2h1.35M471.1 290.7h1.35M478.0 289.6h1.35M489.5 289.7h1.35M483.9 295.5h1.35M476.1 289.8h1.35M491.9 291.2h1.35M454.2 302.4h1.35M458.1 297.6h1.35M479.1 300.2h1.35M452.1 303.3h1.35M481.0 289.7h1.35M476.5 301.8h1.35M484.6 293.9h1.35M482.1 288.5h1.35M456.4 300.4h1.35M466.8 304.8h1.35M471.9 301.0h1.35M462.9 295.4h1.35M474.6 289.4h1.35M485.1 292.7h1.35M480.5 285.8h1.35M459.5 297.9h1.35M460.5 304.0h1.35M455.0 301.0h1.35M459.7 295.7h1.35M476.2 289.0h1.35M485.3 300.1h1.35M475.1 288.9h1.35M478.9 288.1h1.35M455.3 302.1h1.35M461.1 293.4h1.35M470.4 291.2h1.35M464.5 294.3h1.35M459.7 297.3h1.35M480.2 289.6h1.35M467.0 303.0h1.35M456.1 299.3h1.35M481.3 287.8h1.35M466.4 302.8h1.35M473.1 301.4h1.35M473.2 300.5h1.35M471.8 290.6h1.35M482.9 293.9h1.35M482.1 295.9h1.35M459.5 296.7h1.35M476.6 298.9h1.35M481.1 297.1h1.35M447.3 301.6h1.35M461.0 303.3h1.35M472.9 301.2h1.35M485.0 289.5h1.35M477.7 288.5h1.35M481.5 286.8h1.35M456.0 296.7h1.35M466.3 304.2h1.35M486.3 296.1h1.35M470.1 305.0h1.35M472.3 288.6h1.35M482.2 286.1h1.35M457.2 297.7h1.35M455.3 299.3h1.35M462.8 304.9h1.35M464.4 303.2h1.35M483.8 294.4h1.35M459.5 304.2h1.35M476.1 302.5h1.35M453.2 306.7h1.35M468.6 302.5h1.35M486.6 285.3h1.35M468.0 306.5h1.35M460.7 304.8h1.35M465.6 293.6h1.35M484.5 287.5h1.35M472.0 289.8h1.35M485.2 295.9h1.35M482.1 290.3h1.35M483.6 289.8h1.35M453.9 301.4h1.35M493.7 288.7h1.35M482.7 286.8h1.35M471.7 288.9h1.35M465.8 305.2h1.35M475.0 300.0h1.35M482.5 295.9h1.35M485.9 287.4h1.35M457.7 297.1h1.35M459.6 303.4h1.35M484.9 292.0h1.35M457.0 304.7h1.35M480.8 298.0h1.35M461.6 294.3h1.35M488.4 289.5h1.35M458.6 299.9h1.35M491.7 288.9h1.35M488.6 291.6h1.35M456.1 308.1h1.35M478.0 289.1h1.35M454.7 299.8h1.35M475.9 287.0h1.35M481.3 297.6h1.35M460.3 296.4h1.35M456.5 303.1h1.35M476.0 287.8h1.35M444.7 295.4h1.35M444.7 298.8h1.35M449.3 305.0h1.35M498.3 286.0h1.35M496.3 288.0h1.35" stroke="#F25958" stroke-width="1.35" fill="none"/><path d="M425.7 257.0h1.35M424.3 265.2h1.35M423.8 275.1h1.35M423.6 265.5h1.35M424.4 265.1h1.35M428.6 266.1h1.35M429.0 272.3h1.35M424.4 254.0h1.35M425.0 260.0h1.35M424.7 257.2h1.35M426.1 262.3h1.35M427.9 274.6h1.35M423.7 258.2h1.35M423.1 269.9h1.35M426.3 260.7h1.35M426.8 261.3h1.35M427.1 255.3h1.35M416.6 256.7h1.35M427.4 267.2h1.35M425.8 260.2h1.35M428.3 263.1h1.35M425.3 261.2h1.35M428.1 258.5h1.35M425.7 264.3h1.35M430.2 265.7h1.35M423.7 257.6h1.35M426.2 257.5h1.35M427.3 266.4h1.35M425.5 266.8h1.35M427.6 268.3h1.35M429.3 262.3h1.35M428.0 262.3h1.35M428.8 266.0h1.35M431.0 262.7h1.35M428.4 253.7h1.35M426.1 265.2h1.35M427.9 260.3h1.35M425.1 267.3h1.35M436.1 255.5h1.35M425.3 266.3h1.35M425.4 268.0h1.35M425.1 275.1h1.35M430.8 265.9h1.35M425.6 261.5h1.35M422.3 260.7h1.35M429.8 256.3h1.35M429.8 266.6h1.35M428.1 267.6h1.35M428.2 264.4h1.35M424.5 253.1h1.35M426.6 268.0h1.35M423.2 255.0h1.35M427.8 263.1h1.35M431.8 259.3h1.35M428.3 259.7h1.35M425.3 269.0h1.35M428.5 266.8h1.35M426.6 258.3h1.35M430.3 262.3h1.35M424.6 268.3h1.35M427.9 257.9h1.35M424.0 270.1h1.35M425.8 254.8h1.35M422.5 254.7h1.35M426.7 246.0h1.35M426.8 260.4h1.35M426.8 252.8h1.35M424.8 267.6h1.35M424.2 259.0h1.35M430.5 268.9h1.35M429.2 267.4h1.35M426.6 264.6h1.35M425.5 264.5h1.35M422.9 266.9h1.35M428.0 258.9h1.35M423.2 262.3h1.35M427.1 259.1h1.35M428.8 268.5h1.35M424.8 259.9h1.35M426.4 256.1h1.35M426.9 263.9h1.35M423.4 275.4h1.35M424.5 252.8h1.35M422.7 268.0h1.35M428.7 279.4h1.35M424.8 264.4h1.35M427.0 262.0h1.35M429.6 263.6h1.35M427.9 264.9h1.35M426.4 267.0h1.35M420.0 263.5h1.35M427.6 256.7h1.35M429.2 266.9h1.35M431.5 266.6h1.35M418.9 253.5h1.35M430.4 270.8h1.35M430.6 267.3h1.35M426.4 254.6h1.35M429.0 259.5h1.35M427.0 270.4h1.35M425.9 270.1h1.35M429.6 258.2h1.35M426.3 256.5h1.35M424.0 273.5h1.35M427.7 266.5h1.35M427.5 265.3h1.35M428.8 264.0h1.35M423.9 266.0h1.35M429.2 261.4h1.35" stroke="#2F6FB7" stroke-width="1.35" fill="none"/><path d="M466.5 259.1h1.35M462.2 268.8h1.35M463.9 264.3h1.35M464.0 270.9h1.35M466.0 269.7h1.35M462.3 266.8h1.35M465.5 269.3h1.35M457.1 275.0h1.35M461.5 270.9h1.35M465.0 268.4h1.35M469.0 264.5h1.35M467.4 266.3h1.35M464.6 269.5h1.35M469.3 265.3h1.35M465.4 271.2h1.35M465.5 268.3h1.35M462.6 261.6h1.35M455.7 271.9h1.35M461.5 276.5h1.35M468.4 264.8h1.35M466.6 268.2h1.35M463.9 266.3h1.35M460.2 267.1h1.35M467.7 262.1h1.35M468.3 265.7h1.35M464.3 262.4h1.35M462.6 272.8h1.35M470.1 264.2h1.35M471.3 260.3h1.35M460.6 268.6h1.35M467.5 267.9h1.35M463.2 264.5h1.35M459.0 268.9h1.35M464.9 268.7h1.35M465.8 264.6h1.35M462.7 265.5h1.35M461.1 266.4h1.35M466.7 267.6h1.35M464.9 263.6h1.35M469.4 262.1h1.35M466.3 267.9h1.35M461.2 270.5h1.35M463.6 264.3h1.35M456.2 274.0h1.35M466.4 263.2h1.35M468.9 262.0h1.35M470.0 263.9h1.35M464.9 264.9h1.35M466.2 266.6h1.35M459.1 270.7h1.35M457.2 271.1h1.35M463.7 270.1h1.35M460.8 274.9h1.35M461.0 264.2h1.35M463.0 272.4h1.35M467.4 260.0h1.35M458.4 268.7h1.35M468.5 266.4h1.35M467.5 263.9h1.35M473.6 264.6h1.35M465.0 263.4h1.35M458.3 270.6h1.35M476.8 267.5h1.35" stroke="#59AC46" stroke-width="1.35" fill="none"/><g fill="#FFC92C"><ellipse cx="91.0" cy="450.8" rx="5.90" ry="5.29" transform="rotate(0.0 91.0 450.8)"/><ellipse cx="91.2" cy="462.5" rx="2.91" ry="4.84" transform="rotate(0.0 91.2 462.5)"/><ellipse cx="103.5" cy="451.0" rx="6.59" ry="2.64" transform="rotate(0.0 103.5 451.0)"/></g><path d="M96.2 449.0h1.35M93.4 455.5h1.35M86.9 444.7h1.35M86.4 446.1h1.35M85.4 453.8h1.35M90.8 445.8h1.35M92.6 458.0h1.35M92.9 457.1h1.35M95.8 453.1h1.35M95.7 449.4h1.35M96.3 450.9h1.35M87.9 455.4h1.35M95.8 452.3h1.35M94.0 447.1h1.35M84.5 448.4h1.35M82.9 448.2h1.35M96.2 450.1h1.35M97.8 453.4h1.35M84.6 450.0h1.35M92.9 455.3h1.35M86.8 454.6h1.35M83.9 451.6h1.35M93.6 457.7h1.35M87.2 455.3h1.35M81.4 447.6h1.35M95.6 448.4h1.35M87.8 456.9h1.35M85.4 448.2h1.35M88.2 446.1h1.35M96.5 454.8h1.35M91.1 455.9h1.35M87.8 446.1h1.35M92.6 446.0h1.35M84.0 455.4h1.35M84.4 454.8h1.35M95.6 451.7h1.35M89.8 445.3h1.35M83.0 456.9h1.35M95.4 452.3h1.35M88.5 457.0h1.35M89.1 445.3h1.35M95.6 457.4h1.35M94.5 446.8h1.35M85.6 453.0h1.35M84.9 452.8h1.35M89.2 446.3h1.35M85.0 453.1h1.35M85.1 456.6h1.35M92.8 456.2h1.35M89.5 445.9h1.35M84.3 449.5h1.35M95.7 450.8h1.35M95.0 453.3h1.35M91.2 442.8h1.35M98.9 448.4h1.35M93.5 454.7h1.35M90.0 456.6h1.35M83.9 452.4h1.35M89.1 456.9h1.35M93.0 445.8h1.35M94.9 448.3h1.35M91.7 445.3h1.35M84.8 447.0h1.35M87.0 446.4h1.35M95.8 447.5h1.35M86.0 456.0h1.35M94.2 447.2h1.35M89.1 455.5h1.35M97.6 447.7h1.35M90.4 444.8h1.35M93.6 446.6h1.35M95.9 454.1h1.35M91.3 455.5h1.35M84.3 451.2h1.35M90.4 455.8h1.35M85.2 451.5h1.35M82.7 452.0h1.35M88.9 456.4h1.35M84.0 449.6h1.35M83.1 453.4h1.35M86.2 454.5h1.35M98.5 452.2h1.35M95.9 451.6h1.35M85.9 455.2h1.35M82.3 452.4h1.35M99.5 445.6h1.35M86.1 458.1h1.35M98.7 451.6h1.35M86.4 453.8h1.35M83.8 450.5h1.35M84.8 449.2h1.35M92.8 459.9h1.35M88.4 464.6h1.35M89.0 458.6h1.35M93.5 461.3h1.35M87.6 459.7h1.35M93.0 461.8h1.35M88.5 465.9h1.35M87.3 457.2h1.35M93.2 458.5h1.35M93.3 465.4h1.35M88.6 458.8h1.35M88.0 462.5h1.35M91.6 457.0h1.35M88.0 460.8h1.35M87.8 463.3h1.35M88.3 465.5h1.35M93.7 464.4h1.35M89.1 466.4h1.35M88.9 469.7h1.35M90.0 468.4h1.35M89.2 457.5h1.35M92.7 467.4h1.35M86.8 461.4h1.35M91.8 466.7h1.35M94.2 462.4h1.35M91.1 458.1h1.35M89.6 467.6h1.35M92.3 458.7h1.35M87.8 465.9h1.35M87.8 461.1h1.35M91.5 468.1h1.35M92.9 460.7h1.35M92.7 466.5h1.35M94.7 460.0h1.35M86.5 459.6h1.35M87.3 457.9h1.35M93.2 455.8h1.35M90.0 469.2h1.35M89.5 457.9h1.35M93.4 456.4h1.35M94.6 464.2h1.35M90.2 457.7h1.35M95.2 464.2h1.35M88.9 470.4h1.35M94.3 464.9h1.35M93.6 460.3h1.35M92.9 467.8h1.35M95.2 461.6h1.35M94.8 460.1h1.35M87.6 463.8h1.35M87.7 466.5h1.35M86.2 461.7h1.35M89.9 454.4h1.35M94.2 456.9h1.35M85.8 465.4h1.35M92.7 466.3h1.35M91.1 467.7h1.35M85.5 462.8h1.35M90.3 457.0h1.35M90.3 458.1h1.35M94.2 468.1h1.35M88.8 459.3h1.35M87.4 464.7h1.35M88.2 460.3h1.35M103.6 455.2h1.35M109.0 450.6h1.35M106.8 452.8h1.35M99.6 453.5h1.35M106.8 449.3h1.35M101.8 455.5h1.35M97.6 451.9h1.35M93.6 451.9h1.35M98.4 453.4h1.35M96.7 451.1h1.35M103.5 448.3h1.35M90.2 450.5h1.35M103.1 453.9h1.35M99.3 453.6h1.35M96.8 452.9h1.35M103.7 453.7h1.35M104.6 448.6h1.35M108.9 449.6h1.35M111.1 450.3h1.35M108.0 452.0h1.35M107.2 453.3h1.35M115.2 454.0h1.35M101.9 448.7h1.35M112.9 451.0h1.35M105.6 453.4h1.35M104.2 454.6h1.35M110.4 449.7h1.35M98.3 449.5h1.35M103.8 448.7h1.35M99.3 448.2h1.35M93.2 451.0h1.35M107.2 454.3h1.35M103.1 448.7h1.35M109.8 446.8h1.35M105.1 454.5h1.35M102.0 448.5h1.35M100.4 453.5h1.35M108.4 453.9h1.35M101.2 453.6h1.35M97.5 449.0h1.35M96.7 451.4h1.35M107.6 449.6h1.35M110.3 450.3h1.35M99.9 448.9h1.35M102.0 447.2h1.35M105.8 453.3h1.35M100.3 453.7h1.35M97.8 448.5h1.35M113.6 451.6h1.35M97.2 450.8h1.35M102.8 454.4h1.35M95.0 450.1h1.35M96.8 445.8h1.35M97.4 450.3h1.35M95.0 451.4h1.35M92.9 454.0h1.35M110.0 452.9h1.35M98.3 449.2h1.35M98.3 454.7h1.35M108.4 451.3h1.35M104.8 448.0h1.35M112.1 451.2h1.35M92.5 452.6h1.35M100.5 448.6h1.35M108.6 451.8h1.35M96.9 450.7h1.35M101.4 447.8h1.35M91.7 451.0h1.35M99.1 448.6h1.35M99.6 453.9h1.35M102.3 454.0h1.35M111.2 453.0h1.35M103.6 448.2h1.35M105.1 454.2h1.35M96.6 435.3h1.35M105.7 435.3h1.35M93.2 438.2h1.35M92.8 440.6h1.35M102.9 438.7h1.35M104.8 438.2h1.35M86.5 442.5h1.35M100.0 441.0h1.35M98.5 442.5h1.35M99.5 444.4h1.35M87.3 469.5h1.35M94.8 469.0h1.35" stroke="#FFC92C" stroke-width="1.35" fill="none"/><g fill="#F25958"><polygon points="124.2,446.6 131.9,445.1 139.6,443.7 147.3,443.2 150.2,444.2 150.2,446.6 146.3,451.4 142.5,455.2 138.7,457.6 133.8,456.7 129.0,455.7 124.2,455.2"/></g><path d="M142.3 442.8h1.35M131.5 456.8h1.35M131.2 456.9h1.35M140.4 444.4h1.35M145.4 450.0h1.35M130.1 456.0h1.35M125.0 445.5h1.35M128.1 456.4h1.35M131.2 445.6h1.35M138.2 442.5h1.35M123.7 450.3h1.35M144.4 451.4h1.35M126.2 446.1h1.35M141.2 442.9h1.35M147.3 450.5h1.35M139.5 443.3h1.35M134.4 457.3h1.35M136.8 443.5h1.35M130.4 445.1h1.35M148.9 446.2h1.35M124.6 452.7h1.35M129.6 445.3h1.35M124.2 451.6h1.35M134.7 444.4h1.35M123.5 451.2h1.35M143.0 444.2h1.35M142.7 443.0h1.35M148.3 448.0h1.35M134.8 456.8h1.35M148.0 444.6h1.35M122.5 447.2h1.35M149.9 445.8h1.35M144.3 452.3h1.35M150.3 444.3h1.35M148.8 444.8h1.35M124.4 448.9h1.35M147.7 448.3h1.35M131.5 446.2h1.35M138.8 456.8h1.35M128.9 446.2h1.35M130.4 456.5h1.35M147.4 443.5h1.35M146.0 451.8h1.35M148.2 446.8h1.35M139.2 443.5h1.35M144.2 451.8h1.35M123.7 452.5h1.35M136.1 445.5h1.35M130.1 455.5h1.35M128.9 444.4h1.35M141.1 457.0h1.35M143.4 454.9h1.35M147.3 449.5h1.35M126.4 453.3h1.35M141.5 441.3h1.35M145.7 442.6h1.35M151.0 445.3h1.35M136.6 457.5h1.35M139.8 456.6h1.35M132.6 445.1h1.35M137.2 444.0h1.35M135.8 444.2h1.35M123.4 448.8h1.35M129.5 454.7h1.35M123.7 449.5h1.35M124.0 454.1h1.35M127.5 446.3h1.35M138.6 443.0h1.35M148.7 447.3h1.35M124.5 451.8h1.35M142.8 454.5h1.35M123.2 452.6h1.35M123.8 455.8h1.35M142.1 456.8h1.35M139.6 454.9h1.35M140.4 454.9h1.35M124.7 449.9h1.35M125.6 446.5h1.35M139.0 457.2h1.35M147.5 448.9h1.35M128.6 455.9h1.35M128.5 445.4h1.35M150.9 445.0h1.35M144.6 443.3h1.35M126.2 455.2h1.35M149.7 445.7h1.35M138.8 458.0h1.35M144.6 453.8h1.35M134.9 443.1h1.35M133.4 444.5h1.35M123.7 455.2h1.35M137.3 458.6h1.35M146.8 450.6h1.35M133.0 456.5h1.35M143.8 443.4h1.35M141.4 453.7h1.35M144.5 451.6h1.35M148.9 447.0h1.35M141.5 443.7h1.35M123.6 454.6h1.35M123.6 455.2h1.35M138.8 455.7h1.35M145.1 452.7h1.35M140.2 443.7h1.35M140.9 456.0h1.35M127.2 446.8h1.35M140.0 443.7h1.35M142.4 444.7h1.35M124.1 446.7h1.35M142.2 442.7h1.35M132.4 456.1h1.35M123.8 451.1h1.35M145.1 443.1h1.35M147.1 449.4h1.35M123.3 446.7h1.35M122.6 451.4h1.35M128.1 444.0h1.35M134.0 444.7h1.35M122.9 448.7h1.35M136.5 443.9h1.35M124.9 455.1h1.35M149.6 444.9h1.35M146.0 451.1h1.35M129.4 456.8h1.35M148.2 449.5h1.35M134.0 456.8h1.35M140.3 457.4h1.35M133.4 457.4h1.35M127.2 455.3h1.35M133.7 444.0h1.35M148.6 447.6h1.35M138.9 445.3h1.35M123.3 456.1h1.35M137.4 456.7h1.35M149.7 447.3h1.35M148.3 443.5h1.35M123.1 453.6h1.35M126.4 445.1h1.35M136.4 443.5h1.35M129.7 446.6h1.35M123.2 448.3h1.35M125.4 454.9h1.35M133.9 456.0h1.35M123.9 447.5h1.35M127.6 454.5h1.35M131.4 444.5h1.35M123.2 447.7h1.35M149.2 443.9h1.35M143.5 451.8h1.35M127.0 455.4h1.35M145.0 444.0h1.35M143.6 454.8h1.35M123.2 451.7h1.35M134.8 444.2h1.35M126.0 456.9h1.35M142.4 455.5h1.35M124.5 456.5h1.35M141.7 454.9h1.35M142.9 453.2h1.35M146.6 443.2h1.35M139.1 444.1h1.35M129.6 455.8h1.35M134.3 456.1h1.35M143.0 443.4h1.35M127.6 447.0h1.35M111.2 449.9h1.35M115.5 450.3h1.35M109.6 448.7h1.35M114.7 447.7h1.35M122.2 446.5h1.35M114.9 452.5h1.35M122.2 448.2h1.35M121.8 447.2h1.35M121.1 448.8h1.35M119.1 449.7h1.35M119.7 448.0h1.35M109.6 448.3h1.35M117.9 448.9h1.35M114.2 447.9h1.35M112.3 453.1h1.35M122.2 450.4h1.35M121.6 450.8h1.35M120.6 453.7h1.35M121.0 454.5h1.35M115.3 447.9h1.35M109.6 454.2h1.35M123.3 453.4h1.35M115.0 448.1h1.35M110.2 448.3h1.35M114.0 452.4h1.35M113.0 454.4h1.35M118.3 452.0h1.35M117.7 453.9h1.35M110.6 449.3h1.35M111.0 448.6h1.35M121.7 455.2h1.35M114.2 449.2h1.35M119.2 448.7h1.35M116.7 452.3h1.35M120.2 446.9h1.35M109.9 447.3h1.35M110.6 454.1h1.35M111.2 450.3h1.35M120.2 451.3h1.35M120.0 452.4h1.35M109.6 453.3h1.35M122.3 453.8h1.35M119.8 454.3h1.35M118.0 454.6h1.35M119.3 453.6h1.35M115.3 450.9h1.35M120.8 447.8h1.35M110.1 451.3h1.35M115.1 453.1h1.35M110.8 452.0h1.35M119.4 449.8h1.35M112.8 449.3h1.35M122.9 450.2h1.35M115.5 452.4h1.35M113.0 452.0h1.35M121.1 447.9h1.35M113.2 448.2h1.35M114.4 454.6h1.35M113.0 449.5h1.35M110.5 447.3h1.35M109.7 450.0h1.35M113.6 451.0h1.35M113.3 449.2h1.35M121.2 452.4h1.35M115.2 454.1h1.35M120.6 448.0h1.35M112.0 449.1h1.35M117.4 448.5h1.35M113.8 453.5h1.35M119.5 450.5h1.35M122.0 454.4h1.35M112.5 449.4h1.35M114.5 449.0h1.35M113.5 453.0h1.35M116.0 453.3h1.35M114.6 453.3h1.35M111.6 453.6h1.35M116.0 450.1h1.35M118.6 452.2h1.35M113.4 456.7h1.35M116.3 460.5h1.35M118.7 457.6h1.35M126.9 458.6h1.35M135.1 459.1h1.35M138.4 458.6h1.35M118.6 442.4h1.35M128.6 443.5h1.35M136.6 439.8h1.35M140.8 439.2h1.35M151.4 441.3h1.35M135.5 459.3h1.35" stroke="#F25958" stroke-width="1.35" fill="none"/><g fill="#2F6FB7"><ellipse cx="93.5" cy="418.2" rx="3.54" ry="4.81" transform="rotate(0.0 93.5 418.2)"/></g><path d="M97.2 424.2h1.35M89.4 419.4h1.35M95.1 423.2h1.35M97.3 417.9h1.35M89.4 418.7h1.35M92.2 422.0h1.35M93.3 422.1h1.35M92.6 422.2h1.35M91.3 426.0h1.35M88.4 420.1h1.35M91.4 422.3h1.35M90.2 413.5h1.35M95.8 414.1h1.35M93.8 410.2h1.35M90.2 412.8h1.35M93.0 413.9h1.35M93.4 424.6h1.35M86.6 416.2h1.35M95.8 420.8h1.35M87.8 421.7h1.35M98.5 413.5h1.35M88.2 414.9h1.35M95.2 421.3h1.35M94.0 422.1h1.35M92.9 413.9h1.35M93.9 428.4h1.35M92.8 424.1h1.35M95.3 416.3h1.35M95.8 426.7h1.35M94.9 423.1h1.35M91.1 412.9h1.35M97.5 412.5h1.35M98.3 406.5h1.35M97.5 413.2h1.35M93.5 409.6h1.35M87.6 421.3h1.35M91.6 411.3h1.35M91.4 423.6h1.35M96.5 413.3h1.35M87.3 418.0h1.35M86.6 421.3h1.35M90.8 415.1h1.35M95.3 412.7h1.35M94.8 410.4h1.35M87.8 416.9h1.35M94.7 422.2h1.35M92.6 423.2h1.35M95.8 416.4h1.35M97.4 417.0h1.35M90.5 412.1h1.35M92.9 412.8h1.35M94.4 414.9h1.35M90.2 419.9h1.35M88.9 420.0h1.35M84.0 414.7h1.35M88.5 421.7h1.35M95.5 413.8h1.35M96.8 414.4h1.35M88.4 418.7h1.35M88.6 411.9h1.35M90.2 410.5h1.35M98.7 419.3h1.35M90.2 409.8h1.35M93.5 426.3h1.35M96.9 423.6h1.35M93.1 423.3h1.35M95.8 419.2h1.35M95.2 422.1h1.35M89.9 417.4h1.35M89.5 415.2h1.35M90.6 423.1h1.35M89.8 418.3h1.35M87.8 411.1h1.35M96.1 412.6h1.35M91.1 411.6h1.35M87.2 420.6h1.35M95.7 419.3h1.35M88.0 417.7h1.35M97.0 419.9h1.35M92.6 413.3h1.35M96.0 423.0h1.35M84.8 409.6h1.35M88.5 411.0h1.35M94.5 409.4h1.35M91.2 410.4h1.35M88.8 416.8h1.35M92.9 425.0h1.35M95.9 415.3h1.35M89.1 416.0h1.35M91.7 412.6h1.35M89.4 420.8h1.35M93.9 424.6h1.35M95.2 410.9h1.35M93.7 414.4h1.35M91.2 414.9h1.35M89.7 410.6h1.35M89.2 421.2h1.35M89.9 412.7h1.35M88.6 421.7h1.35M90.4 422.2h1.35M90.1 415.8h1.35M90.7 415.6h1.35M88.3 421.1h1.35M101.2 408.2h1.35M103.6 422.7h1.35M89.9 431.1h1.35M87.8 406.5h1.35M98.8 428.5h1.35" stroke="#2F6FB7" stroke-width="1.35" fill="none"/><path d="M136.3 423.8h1.35M134.1 431.6h1.35M123.1 424.7h1.35M120.5 434.8h1.35M134.4 424.8h1.35M121.3 420.0h1.35M127.6 428.3h1.35M137.4 424.4h1.35M127.5 413.0h1.35M131.5 420.6h1.35M130.4 425.6h1.35M125.2 432.9h1.35M135.4 430.6h1.35M129.3 414.5h1.35M132.1 424.2h1.35M134.7 421.0h1.35M134.9 411.6h1.35M141.2 422.9h1.35M127.5 416.5h1.35M126.2 428.8h1.35M126.7 423.3h1.35M130.8 431.8h1.35M140.7 424.1h1.35M134.7 427.8h1.35M128.6 422.3h1.35M140.6 436.1h1.35M128.6 421.5h1.35M134.8 423.0h1.35M134.3 417.2h1.35M136.3 429.5h1.35M131.9 416.9h1.35M123.7 427.4h1.35M131.4 425.9h1.35M131.1 430.4h1.35M128.1 423.5h1.35M132.4 423.1h1.35M129.2 419.1h1.35M132.6 426.7h1.35M116.2 420.5h1.35M134.7 426.0h1.35M128.0 426.2h1.35M131.0 425.1h1.35M129.9 414.4h1.35M137.5 429.3h1.35M132.3 421.5h1.35M125.2 428.4h1.35M131.4 409.9h1.35M124.6 427.1h1.35M135.5 422.2h1.35M123.1 431.6h1.35M133.5 425.3h1.35M136.2 427.8h1.35M141.6 422.2h1.35M130.4 431.8h1.35M134.2 424.5h1.35M130.3 421.2h1.35M128.0 423.8h1.35M152.8 426.6h1.35M130.4 416.0h1.35M126.2 419.6h1.35M128.3 427.8h1.35M138.9 430.8h1.35M132.6 428.0h1.35M131.1 418.4h1.35M123.9 421.4h1.35M120.4 419.5h1.35M133.4 422.3h1.35M140.5 414.3h1.35M130.1 420.6h1.35M117.1 417.2h1.35M138.8 422.6h1.35M130.5 423.8h1.35M136.8 409.2h1.35M126.4 421.1h1.35M124.3 424.2h1.35M128.6 434.5h1.35M135.2 425.7h1.35M128.4 431.8h1.35M126.8 427.2h1.35M129.6 419.7h1.35M136.9 424.1h1.35M126.9 417.0h1.35M117.3 423.4h1.35M137.2 423.7h1.35M121.5 415.3h1.35M123.9 410.2h1.35M128.5 431.0h1.35M124.5 431.8h1.35M133.5 428.9h1.35M124.9 419.4h1.35M138.0 424.4h1.35M139.5 415.6h1.35M122.4 428.2h1.35M137.8 416.0h1.35M132.4 423.6h1.35M128.6 429.4h1.35M137.0 417.2h1.35M128.2 426.7h1.35M130.6 428.4h1.35M134.3 412.6h1.35M126.3 421.5h1.35M131.7 429.0h1.35M124.4 416.4h1.35M134.1 420.4h1.35M129.1 419.3h1.35M129.0 416.8h1.35M131.6 428.4h1.35M130.7 431.1h1.35M147.9 426.4h1.35M129.1 424.8h1.35M125.4 426.5h1.35M130.9 416.8h1.35M122.3 423.8h1.35M129.2 432.7h1.35M134.6 417.5h1.35M128.8 422.7h1.35M130.1 417.6h1.35M141.7 428.5h1.35M126.5 417.5h1.35M121.0 434.6h1.35M122.4 421.2h1.35M126.9 418.8h1.35M123.4 426.0h1.35M126.2 434.4h1.35M124.9 423.3h1.35M129.3 425.6h1.35M129.7 422.1h1.35M134.3 432.9h1.35M130.0 422.2h1.35M118.7 418.2h1.35M138.2 421.8h1.35M137.0 421.3h1.35M129.5 416.5h1.35M124.7 422.1h1.35" stroke="#59AC46" stroke-width="1.35" fill="none"/><g fill="#FFC92C"><ellipse cx="427.2" cy="449.5" rx="4.64" ry="8.23" transform="rotate(0.0 427.2 449.5)"/><ellipse cx="426.8" cy="461.5" rx="3.46" ry="5.00" transform="rotate(0.0 426.8 461.5)"/></g><path d="M430.4 446.2h1.35M429.3 455.6h1.35M431.4 450.5h1.35M420.5 449.5h1.35M423.2 455.2h1.35M428.5 443.1h1.35M425.6 458.8h1.35M425.3 441.2h1.35M429.7 458.7h1.35M424.7 459.3h1.35M424.0 440.4h1.35M431.4 444.9h1.35M430.8 448.3h1.35M423.0 457.1h1.35M421.0 446.5h1.35M419.3 445.7h1.35M431.0 449.5h1.35M427.3 441.6h1.35M422.4 447.6h1.35M421.9 454.3h1.35M424.3 459.1h1.35M423.7 442.7h1.35M429.3 443.3h1.35M423.2 445.0h1.35M422.3 450.3h1.35M426.6 442.2h1.35M424.1 455.8h1.35M430.7 440.2h1.35M429.6 443.9h1.35M427.0 440.6h1.35M430.2 441.8h1.35M429.8 442.5h1.35M431.1 443.5h1.35M426.6 457.8h1.35M424.5 455.9h1.35M429.9 456.6h1.35M423.4 443.7h1.35M427.5 440.1h1.35M430.1 455.4h1.35M426.4 459.1h1.35M430.4 452.2h1.35M426.1 440.1h1.35M423.1 453.8h1.35M424.7 457.6h1.35M428.8 441.9h1.35M430.8 446.1h1.35M422.2 444.4h1.35M429.2 442.4h1.35M422.2 452.6h1.35M421.7 455.9h1.35M422.4 457.7h1.35M426.3 457.5h1.35M422.7 446.3h1.35M424.8 460.1h1.35M427.9 459.1h1.35M421.7 457.4h1.35M423.8 455.5h1.35M421.8 451.9h1.35M428.5 438.7h1.35M426.4 442.1h1.35M427.3 438.8h1.35M423.1 458.9h1.35M419.8 455.6h1.35M421.9 451.0h1.35M425.1 442.0h1.35M428.4 442.9h1.35M422.4 455.0h1.35M430.7 448.1h1.35M431.8 449.9h1.35M430.0 440.3h1.35M431.7 448.5h1.35M424.5 441.8h1.35M431.0 452.9h1.35M425.6 461.2h1.35M432.2 456.3h1.35M421.2 453.2h1.35M430.2 444.1h1.35M425.9 439.6h1.35M429.8 454.2h1.35M424.8 442.5h1.35M422.6 453.0h1.35M429.9 445.1h1.35M431.9 452.0h1.35M421.7 449.1h1.35M428.3 437.1h1.35M422.3 448.8h1.35M428.1 441.7h1.35M422.4 453.6h1.35M422.9 456.5h1.35M430.7 455.9h1.35M430.7 451.4h1.35M420.2 450.9h1.35M428.3 457.9h1.35M425.4 458.5h1.35M433.7 449.4h1.35M423.8 443.7h1.35M421.6 447.7h1.35M423.7 457.6h1.35M427.7 456.5h1.35M427.3 439.6h1.35M420.1 452.4h1.35M431.6 458.4h1.35M430.3 444.6h1.35M422.0 450.6h1.35M426.0 459.4h1.35M426.5 438.5h1.35M432.5 452.4h1.35M430.8 449.1h1.35M423.2 454.9h1.35M424.1 441.6h1.35M423.9 457.0h1.35M429.2 457.7h1.35M426.0 455.5h1.35M423.1 461.4h1.35M428.0 457.5h1.35M424.1 466.4h1.35M425.0 466.1h1.35M425.2 455.8h1.35M424.0 458.2h1.35M428.9 459.5h1.35M428.0 465.5h1.35M423.1 464.5h1.35M427.3 466.0h1.35M423.6 464.2h1.35M429.2 460.1h1.35M422.2 459.5h1.35M428.1 466.9h1.35M429.0 457.9h1.35M428.3 464.8h1.35M428.1 455.2h1.35M430.6 460.1h1.35M427.6 455.0h1.35M422.3 463.9h1.35M427.7 454.2h1.35M428.2 456.3h1.35M430.2 463.0h1.35M429.5 460.1h1.35M429.2 464.4h1.35M423.3 459.5h1.35M429.6 462.5h1.35M422.6 464.9h1.35M429.2 462.9h1.35M426.0 456.5h1.35M428.6 458.8h1.35M422.5 460.1h1.35M428.7 455.9h1.35M429.4 460.9h1.35M426.0 466.4h1.35M425.3 465.9h1.35M429.9 461.7h1.35M423.7 464.2h1.35M424.2 465.6h1.35M425.7 467.4h1.35M430.1 472.1h1.35M429.5 463.1h1.35M423.7 464.6h1.35M423.6 465.4h1.35M424.8 456.7h1.35M427.6 466.8h1.35M425.3 456.8h1.35M423.0 463.5h1.35M427.1 456.9h1.35M427.4 455.8h1.35M422.7 458.4h1.35M420.6 459.4h1.35M428.9 459.1h1.35M438.0 460.7h1.35M436.0 450.4h1.35M436.6 448.2h1.35M441.9 448.8h1.35M436.1 445.7h1.35M433.2 444.4h1.35M441.9 443.0h1.35M435.6 450.1h1.35M440.8 452.2h1.35M435.6 446.6h1.35M434.9 442.8h1.35M437.2 451.4h1.35M439.2 450.7h1.35M440.1 445.1h1.35M438.1 444.0h1.35M439.5 445.3h1.35M443.1 442.7h1.35M434.9 449.0h1.35M439.6 447.8h1.35M435.0 447.5h1.35M435.3 444.9h1.35M436.3 443.9h1.35M435.1 446.1h1.35M441.0 446.2h1.35M442.3 449.2h1.35M434.6 448.1h1.35M436.0 457.3h1.35M438.6 447.1h1.35M439.2 445.7h1.35M435.0 450.8h1.35M435.9 456.4h1.35M433.4 447.4h1.35M439.1 449.3h1.35M431.3 445.5h1.35M439.2 449.3h1.35M439.6 451.2h1.35M434.2 456.4h1.35" stroke="#FFC92C" stroke-width="1.35" fill="none"/><g fill="#F25958"><ellipse cx="469.5" cy="449.5" rx="11.09" ry="5.94" transform="rotate(-10.0 469.5 449.5)"/></g><path d="M465.9 456.4h1.35M462.9 454.8h1.35M481.1 450.8h1.35M467.8 443.9h1.35M460.8 459.0h1.35M465.6 455.1h1.35M463.0 444.3h1.35M460.0 446.5h1.35M460.9 453.4h1.35M479.8 447.7h1.35M463.9 456.5h1.35M471.1 456.1h1.35M464.6 445.0h1.35M463.9 445.1h1.35M459.3 454.9h1.35M459.5 446.2h1.35M469.9 443.9h1.35M458.8 450.0h1.35M456.2 453.0h1.35M471.0 440.8h1.35M477.3 444.2h1.35M457.3 451.9h1.35M458.3 453.5h1.35M472.5 442.3h1.35M475.3 453.0h1.35M482.0 448.1h1.35M480.0 448.4h1.35M474.9 443.0h1.35M472.7 454.3h1.35M471.9 455.1h1.35M482.9 445.3h1.35M465.9 442.4h1.35M470.2 457.3h1.35M468.5 444.2h1.35M480.9 446.0h1.35M453.4 452.5h1.35M453.0 450.9h1.35M464.2 444.1h1.35M458.8 449.2h1.35M478.3 449.6h1.35M462.4 445.4h1.35M474.4 442.5h1.35M477.7 446.2h1.35M464.3 457.6h1.35M466.6 443.6h1.35M474.0 454.2h1.35M478.2 453.1h1.35M461.4 454.4h1.35M475.7 454.1h1.35M472.5 443.5h1.35M483.7 449.0h1.35M457.6 455.2h1.35M464.3 440.1h1.35M474.9 441.4h1.35M468.2 442.8h1.35M476.3 444.3h1.35M456.9 444.7h1.35M453.8 452.5h1.35M483.0 452.4h1.35M465.3 456.4h1.35M469.6 454.9h1.35M455.5 448.7h1.35M467.5 455.7h1.35M463.3 443.8h1.35M461.3 447.0h1.35M457.6 447.9h1.35M468.4 441.2h1.35M459.6 448.9h1.35M461.7 446.3h1.35M475.4 443.4h1.35M458.1 450.3h1.35M457.4 447.0h1.35M478.7 454.6h1.35M473.4 443.3h1.35M456.4 455.8h1.35M462.8 455.6h1.35M470.7 454.8h1.35M460.1 456.8h1.35M484.0 448.4h1.35M479.6 450.1h1.35M477.6 452.3h1.35M476.1 454.4h1.35M477.7 450.9h1.35M458.1 453.7h1.35M477.0 444.0h1.35M473.9 453.5h1.35M475.4 444.8h1.35M455.8 451.3h1.35M474.7 453.6h1.35M468.7 444.2h1.35M474.6 453.4h1.35M458.7 453.9h1.35M458.8 451.5h1.35M470.1 456.5h1.35M455.1 453.0h1.35M464.5 455.1h1.35M461.1 447.2h1.35M456.9 452.0h1.35M476.1 453.4h1.35M457.0 448.4h1.35M456.8 449.6h1.35M466.0 443.9h1.35M481.2 445.6h1.35M463.5 455.0h1.35M461.1 445.9h1.35M462.8 443.9h1.35M475.2 444.2h1.35M459.3 449.8h1.35M466.4 444.6h1.35M455.5 448.2h1.35M464.7 454.9h1.35M480.2 442.3h1.35M480.6 445.7h1.35M477.9 445.8h1.35M478.7 449.3h1.35M480.3 447.4h1.35M460.7 454.1h1.35M475.6 452.6h1.35M479.1 452.4h1.35M477.4 453.7h1.35M480.4 446.7h1.35M461.7 444.7h1.35M478.9 444.5h1.35M448.6 448.2h1.35M468.1 454.9h1.35M479.2 454.1h1.35M460.2 454.7h1.35M477.2 451.6h1.35M470.2 455.3h1.35M481.8 445.1h1.35M481.8 442.5h1.35M471.5 441.0h1.35M459.3 445.1h1.35M454.1 445.6h1.35M469.3 443.1h1.35M467.8 456.0h1.35M471.6 443.1h1.35M472.2 454.9h1.35M483.0 447.7h1.35M473.9 443.7h1.35M457.2 448.9h1.35M478.4 444.9h1.35M460.6 443.8h1.35M479.2 447.6h1.35M478.4 448.0h1.35M460.3 446.9h1.35M458.4 446.3h1.35M481.2 450.2h1.35M459.8 447.9h1.35M471.9 443.8h1.35M476.0 454.1h1.35M487.1 445.2h1.35M456.0 447.4h1.35M456.1 448.8h1.35M482.0 447.4h1.35M471.3 442.9h1.35M478.8 448.3h1.35M461.3 442.3h1.35M459.9 447.3h1.35M462.3 454.5h1.35M468.4 455.1h1.35M458.8 451.3h1.35M477.2 452.3h1.35M459.3 452.8h1.35M464.0 444.8h1.35M473.1 453.9h1.35M481.5 447.9h1.35M470.6 443.3h1.35M458.9 448.1h1.35M457.1 450.8h1.35M478.7 450.8h1.35M478.2 451.7h1.35M476.5 443.3h1.35M453.7 449.9h1.35M456.7 449.0h1.35M476.9 452.9h1.35M465.4 456.6h1.35M476.8 444.7h1.35M449.7 448.3h1.35M482.2 443.5h1.35M479.0 446.8h1.35M474.8 444.4h1.35M478.0 446.6h1.35M479.8 452.7h1.35M471.2 442.1h1.35M464.9 456.4h1.35M461.0 454.0h1.35M467.5 442.4h1.35M459.0 456.2h1.35M468.9 456.1h1.35M463.4 445.8h1.35M466.2 443.4h1.35M480.4 452.5h1.35M454.9 451.2h1.35M488.4 444.2h1.35M463.2 456.2h1.35M469.1 441.8h1.35M479.5 446.9h1.35M482.3 446.3h1.35M460.6 447.6h1.35M447.0 451.8h1.35M449.5 447.0h1.35M446.8 445.1h1.35M452.6 452.3h1.35M448.7 448.3h1.35M454.4 448.9h1.35M452.7 446.5h1.35M444.1 447.4h1.35M451.6 447.1h1.35M446.3 447.6h1.35M452.9 447.8h1.35M450.5 446.0h1.35M451.4 451.0h1.35M447.8 448.0h1.35M454.5 449.4h1.35M454.7 451.6h1.35M452.0 448.4h1.35M444.8 452.1h1.35M452.3 450.2h1.35M442.0 447.6h1.35M449.2 452.1h1.35M448.8 449.1h1.35M449.6 449.7h1.35M452.3 451.0h1.35M442.2 448.8h1.35M450.3 449.1h1.35M452.6 452.0h1.35M445.4 450.5h1.35M445.7 453.0h1.35M445.4 449.3h1.35M451.9 451.3h1.35M450.2 452.9h1.35M455.0 454.1h1.35M452.5 447.6h1.35M448.1 454.4h1.35M444.4 447.3h1.35M443.0 446.2h1.35M448.8 449.8h1.35M452.6 448.0h1.35M448.6 453.2h1.35M450.1 450.3h1.35M451.4 450.5h1.35M464.0 452.8h1.35M463.2 447.8h1.35M458.3 452.3h1.35M455.0 446.8h1.35M453.2 450.5h1.35M457.0 447.1h1.35M449.0 451.2h1.35M447.9 450.9h1.35M446.2 461.2h1.35" stroke="#F25958" stroke-width="1.35" fill="none"/><path d="M432.6 408.8h1.35M427.9 415.1h1.35M435.2 417.3h1.35M429.1 422.1h1.35M430.4 419.4h1.35M427.9 422.4h1.35M429.8 415.5h1.35M428.5 417.3h1.35M432.3 416.7h1.35M429.4 418.6h1.35M430.8 414.5h1.35M429.0 405.5h1.35M431.8 416.4h1.35M426.7 417.9h1.35M429.5 412.7h1.35M431.3 412.6h1.35M428.2 416.5h1.35M426.7 420.0h1.35M426.4 414.0h1.35M428.6 423.3h1.35M428.6 414.6h1.35M430.1 409.6h1.35M430.1 424.7h1.35M425.8 414.4h1.35M433.6 417.4h1.35M434.3 407.0h1.35M433.9 413.3h1.35M427.1 411.3h1.35M428.1 412.7h1.35M423.9 422.4h1.35M434.3 425.3h1.35M429.4 418.0h1.35M425.9 422.7h1.35M427.3 416.3h1.35M428.1 413.6h1.35M423.5 418.8h1.35M427.1 415.7h1.35M424.6 416.2h1.35M429.3 420.4h1.35M431.0 416.0h1.35M428.5 407.2h1.35M427.1 423.6h1.35M427.8 415.2h1.35M429.7 406.7h1.35M428.9 406.9h1.35M425.3 415.6h1.35M425.7 416.0h1.35M431.6 412.8h1.35M429.5 410.9h1.35M429.0 408.5h1.35M431.4 418.4h1.35M429.0 418.0h1.35M429.3 412.0h1.35M431.6 413.6h1.35M426.6 413.5h1.35M428.7 418.7h1.35M428.7 412.3h1.35M424.6 410.5h1.35M433.0 411.9h1.35M428.0 422.0h1.35M427.4 416.6h1.35M429.6 419.8h1.35M430.6 418.9h1.35M427.9 426.9h1.35M426.4 407.8h1.35M430.0 408.7h1.35M426.4 412.5h1.35M424.5 407.5h1.35M433.3 410.7h1.35M428.3 413.5h1.35M425.7 408.7h1.35M425.7 413.5h1.35M428.2 405.5h1.35M430.6 416.2h1.35M430.5 416.6h1.35M426.8 421.1h1.35M423.9 415.0h1.35M430.0 416.9h1.35M429.0 415.3h1.35M431.1 419.7h1.35M429.7 407.3h1.35M424.8 399.0h1.35M430.8 403.3h1.35M438.9 425.7h1.35M430.2 435.0h1.35" stroke="#2F6FB7" stroke-width="1.35" fill="none"/><path d="M458.9 425.5h1.35M465.9 418.5h1.35M458.2 423.5h1.35M460.6 420.9h1.35M463.4 418.6h1.35M464.5 417.2h1.35M461.9 413.3h1.35M463.9 432.9h1.35M459.8 415.1h1.35M456.9 413.6h1.35M460.0 423.8h1.35M458.7 414.9h1.35M464.1 423.7h1.35M462.7 427.6h1.35M461.3 421.0h1.35M462.7 417.5h1.35M458.5 428.1h1.35M461.0 416.7h1.35M464.0 425.1h1.35M461.7 423.4h1.35M460.0 421.7h1.35M458.1 422.0h1.35M447.7 428.4h1.35M449.7 437.8h1.35M458.0 431.6h1.35" stroke="#59AC46" stroke-width="1.35" fill="none"/><path d="M55.1 236.86V324.6M54.3 323.8H178.7M52.1 323.8H55.1M52.1 315.11H55.1M52.1 306.41H55.1M52.1 297.72H55.1M52.1 289.02H55.1M52.1 280.33H55.1M52.1 271.64H55.1M52.1 262.94H55.1M52.1 254.25H55.1M52.1 245.55H55.1M55.1 323.8V326.8M67.46 323.8V326.8M79.82 323.8V326.8M92.18 323.8V326.8M104.54 323.8V326.8M116.9 323.8V326.8M129.26 323.8V326.8M141.62 323.8V326.8M153.98 323.8V326.8M166.34 323.8V326.8" stroke="#222" stroke-width="1.4" fill="none"/><text x="49.7" y="326.6" font-size="7.8" fill="#1a1a1a" text-anchor="end" font-weight="normal" >−2K</text><text x="49.7" y="317.91" font-size="7.8" fill="#1a1a1a" text-anchor="end" font-weight="normal" >−0.2K</text><text x="49.7" y="309.21" font-size="7.8" fill="#1a1a1a" text-anchor="end" font-weight="normal" >1.6K</text><text x="49.7" y="300.52" font-size="7.8" fill="#1a1a1a" text-anchor="end" font-weight="normal" >3.4K</text><text x="49.7" y="291.82" font-size="7.8" fill="#1a1a1a" text-anchor="end" font-weight="normal" >5.2K</text><text x="49.7" y="283.13" font-size="7.8" fill="#1a1a1a" text-anchor="end" font-weight="normal" >7K</text><text x="49.7" y="274.44" font-size="7.8" fill="#1a1a1a" text-anchor="end" font-weight="normal" >8.8K</text><text x="49.7" y="265.74" font-size="7.8" fill="#1a1a1a" text-anchor="end" font-weight="normal" >10.6K</text><text x="49.7" y="257.05" font-size="7.8" fill="#1a1a1a" text-anchor="end" font-weight="normal" >12.4K</text><text x="49.7" y="248.35" font-size="7.8" fill="#1a1a1a" text-anchor="end" font-weight="normal" >14.2K</text><text transform="translate(59.4 333.55) rotate(-45)" font-size="7.85" fill="#1a1a1a" text-anchor="end">−6K</text><text transform="translate(71.76 333.55) rotate(-45)" font-size="7.85" fill="#1a1a1a" text-anchor="end">−4K</text><text transform="translate(84.12 333.55) rotate(-45)" font-size="7.85" fill="#1a1a1a" text-anchor="end">−2K</text><text transform="translate(93.38 334) rotate(-45)" font-size="7.85" fill="#1a1a1a" text-anchor="end">0</text><text transform="translate(107.34 333.3) rotate(-45)" font-size="7.85" fill="#1a1a1a" text-anchor="end">2K</text><text transform="translate(119.7 333.3) rotate(-45)" font-size="7.85" fill="#1a1a1a" text-anchor="end">4K</text><text transform="translate(132.06 333.3) rotate(-45)" font-size="7.85" fill="#1a1a1a" text-anchor="end">6K</text><text transform="translate(144.42 333.3) rotate(-45)" font-size="7.85" fill="#1a1a1a" text-anchor="end">8K</text><text transform="translate(158.38 332.7) rotate(-45)" font-size="7.85" fill="#1a1a1a" text-anchor="end">10K</text><text transform="translate(170.74 332.7) rotate(-45)" font-size="7.85" fill="#1a1a1a" text-anchor="end">12K</text><text transform="translate(116.9 355) scale(0.61 1)" font-size="10.3" font-weight="bold" fill="#222" text-anchor="middle">VIC</text><text transform="translate(25.8 284.7) rotate(-90) scale(0.7 1)" font-size="8.6" font-weight="bold" fill="#1a1a1a" stroke="#1a1a1a" stroke-width="0.1" text-anchor="middle">FAM</text><path d="M222.4 236.86V324.6M221.6 323.8H346M219.4 323.8H222.4M219.4 315.11H222.4M219.4 306.41H222.4M219.4 297.72H222.4M219.4 289.02H222.4M219.4 280.33H222.4M219.4 271.64H222.4M219.4 262.94H222.4M219.4 254.25H222.4M219.4 245.55H222.4M222.4 323.8V326.8M234.76 323.8V326.8M247.12 323.8V326.8M259.48 323.8V326.8M271.84 323.8V326.8M284.2 323.8V326.8M296.56 323.8V326.8M308.92 323.8V326.8M321.28 323.8V326.8M333.64 323.8V326.8" stroke="#222" stroke-width="1.4" fill="none"/><text x="217" y="326.6" font-size="7.8" fill="#1a1a1a" text-anchor="end" font-weight="normal" >−2K</text><text x="217" y="317.91" font-size="7.8" fill="#1a1a1a" text-anchor="end" font-weight="normal" >−0.2K</text><text x="217" y="309.21" font-size="7.8" fill="#1a1a1a" text-anchor="end" font-weight="normal" >1.6K</text><text x="217" y="300.52" font-size="7.8" fill="#1a1a1a" text-anchor="end" font-weight="normal" >3.4K</text><text x="217" y="291.82" font-size="7.8" fill="#1a1a1a" text-anchor="end" font-weight="normal" >5.2K</text><text x="217" y="283.13" font-size="7.8" fill="#1a1a1a" text-anchor="end" font-weight="normal" >7K</text><text x="217" y="274.44" font-size="7.8" fill="#1a1a1a" text-anchor="end" font-weight="normal" >8.8K</text><text x="217" y="265.74" font-size="7.8" fill="#1a1a1a" text-anchor="end" font-weight="normal" >10.6K</text><text x="217" y="257.05" font-size="7.8" fill="#1a1a1a" text-anchor="end" font-weight="normal" >12.4K</text><text x="217" y="248.35" font-size="7.8" fill="#1a1a1a" text-anchor="end" font-weight="normal" >14.2K</text><text transform="translate(226.7 333.55) rotate(-45)" font-size="7.85" fill="#1a1a1a" text-anchor="end">−6K</text><text transform="translate(239.06 333.55) rotate(-45)" font-size="7.85" fill="#1a1a1a" text-anchor="end">−4K</text><text transform="translate(251.42 333.55) rotate(-45)" font-size="7.85" fill="#1a1a1a" text-anchor="end">−2K</text><text transform="translate(260.68 334) rotate(-45)" font-size="7.85" fill="#1a1a1a" text-anchor="end">0</text><text transform="translate(274.64 333.3) rotate(-45)" font-size="7.85" fill="#1a1a1a" text-anchor="end">2K</text><text transform="translate(287 333.3) rotate(-45)" font-size="7.85" fill="#1a1a1a" text-anchor="end">4K</text><text transform="translate(299.36 333.3) rotate(-45)" font-size="7.85" fill="#1a1a1a" text-anchor="end">6K</text><text transform="translate(311.72 333.3) rotate(-45)" font-size="7.85" fill="#1a1a1a" text-anchor="end">8K</text><text transform="translate(325.68 332.7) rotate(-45)" font-size="7.85" fill="#1a1a1a" text-anchor="end">10K</text><text transform="translate(338.04 332.7) rotate(-45)" font-size="7.85" fill="#1a1a1a" text-anchor="end">12K</text><text transform="translate(284.2 355) scale(0.61 1)" font-size="10.3" font-weight="bold" fill="#222" text-anchor="middle">VIC</text><text transform="translate(193.1 284.7) rotate(-90) scale(0.7 1)" font-size="8.6" font-weight="bold" fill="#1a1a1a" stroke="#1a1a1a" stroke-width="0.1" text-anchor="middle">FAM</text><path d="M389.7 236.86V324.6M388.9 323.8H513.3M386.7 323.8H389.7M386.7 315.11H389.7M386.7 306.41H389.7M386.7 297.72H389.7M386.7 289.02H389.7M386.7 280.33H389.7M386.7 271.64H389.7M386.7 262.94H389.7M386.7 254.25H389.7M386.7 245.55H389.7M389.7 323.8V326.8M402.06 323.8V326.8M414.42 323.8V326.8M426.78 323.8V326.8M439.14 323.8V326.8M451.5 323.8V326.8M463.86 323.8V326.8M476.22 323.8V326.8M488.58 323.8V326.8M500.94 323.8V326.8" stroke="#222" stroke-width="1.4" fill="none"/><text x="384.3" y="326.6" font-size="7.8" fill="#1a1a1a" text-anchor="end" font-weight="normal" >−2K</text><text x="384.3" y="317.91" font-size="7.8" fill="#1a1a1a" text-anchor="end" font-weight="normal" >−0.2K</text><text x="384.3" y="309.21" font-size="7.8" fill="#1a1a1a" text-anchor="end" font-weight="normal" >1.6K</text><text x="384.3" y="300.52" font-size="7.8" fill="#1a1a1a" text-anchor="end" font-weight="normal" >3.4K</text><text x="384.3" y="291.82" font-size="7.8" fill="#1a1a1a" text-anchor="end" font-weight="normal" >5.2K</text><text x="384.3" y="283.13" font-size="7.8" fill="#1a1a1a" text-anchor="end" font-weight="normal" >7K</text><text x="384.3" y="274.44" font-size="7.8" fill="#1a1a1a" text-anchor="end" font-weight="normal" >8.8K</text><text x="384.3" y="265.74" font-size="7.8" fill="#1a1a1a" text-anchor="end" font-weight="normal" >10.6K</text><text x="384.3" y="257.05" font-size="7.8" fill="#1a1a1a" text-anchor="end" font-weight="normal" >12.4K</text><text x="384.3" y="248.35" font-size="7.8" fill="#1a1a1a" text-anchor="end" font-weight="normal" >14.2K</text><text transform="translate(394 333.55) rotate(-45)" font-size="7.85" fill="#1a1a1a" text-anchor="end">−6K</text><text transform="translate(406.36 333.55) rotate(-45)" font-size="7.85" fill="#1a1a1a" text-anchor="end">−4K</text><text transform="translate(418.72 333.55) rotate(-45)" font-size="7.85" fill="#1a1a1a" text-anchor="end">−2K</text><text transform="translate(427.98 334) rotate(-45)" font-size="7.85" fill="#1a1a1a" text-anchor="end">0</text><text transform="translate(441.94 333.3) rotate(-45)" font-size="7.85" fill="#1a1a1a" text-anchor="end">2K</text><text transform="translate(454.3 333.3) rotate(-45)" font-size="7.85" fill="#1a1a1a" text-anchor="end">4K</text><text transform="translate(466.66 333.3) rotate(-45)" font-size="7.85" fill="#1a1a1a" text-anchor="end">6K</text><text transform="translate(479.02 333.3) rotate(-45)" font-size="7.85" fill="#1a1a1a" text-anchor="end">8K</text><text transform="translate(492.98 332.7) rotate(-45)" font-size="7.85" fill="#1a1a1a" text-anchor="end">10K</text><text transform="translate(505.34 332.7) rotate(-45)" font-size="7.85" fill="#1a1a1a" text-anchor="end">12K</text><text transform="translate(451.5 355) scale(0.61 1)" font-size="10.3" font-weight="bold" fill="#222" text-anchor="middle">VIC</text><text transform="translate(360.4 284.2) rotate(-90) scale(0.7 1)" font-size="8.6" font-weight="bold" fill="#1a1a1a" stroke="#1a1a1a" stroke-width="0.1" text-anchor="middle">FAM</text><path d="M55.1 388.66V476.4M54.3 475.6H178.7M52.1 475.6H55.1M52.1 466.91H55.1M52.1 458.21H55.1M52.1 449.52H55.1M52.1 440.82H55.1M52.1 432.13H55.1M52.1 423.44H55.1M52.1 414.74H55.1M52.1 406.05H55.1M52.1 397.35H55.1M55.1 475.6V478.6M67.46 475.6V478.6M79.82 475.6V478.6M92.18 475.6V478.6M104.54 475.6V478.6M116.9 475.6V478.6M129.26 475.6V478.6M141.62 475.6V478.6M153.98 475.6V478.6M166.34 475.6V478.6" stroke="#222" stroke-width="1.4" fill="none"/><text x="49.7" y="478.4" font-size="7.8" fill="#1a1a1a" text-anchor="end" font-weight="normal" >−2K</text><text x="49.7" y="469.71" font-size="7.8" fill="#1a1a1a" text-anchor="end" font-weight="normal" >−0.2K</text><text x="49.7" y="461.01" font-size="7.8" fill="#1a1a1a" text-anchor="end" font-weight="normal" >1.6K</text><text x="49.7" y="452.32" font-size="7.8" fill="#1a1a1a" text-anchor="end" font-weight="normal" >3.4K</text><text x="49.7" y="443.62" font-size="7.8" fill="#1a1a1a" text-anchor="end" font-weight="normal" >5.2K</text><text x="49.7" y="434.93" font-size="7.8" fill="#1a1a1a" text-anchor="end" font-weight="normal" >7K</text><text x="49.7" y="426.24" font-size="7.8" fill="#1a1a1a" text-anchor="end" font-weight="normal" >8.8K</text><text x="49.7" y="417.54" font-size="7.8" fill="#1a1a1a" text-anchor="end" font-weight="normal" >10.6K</text><text x="49.7" y="408.85" font-size="7.8" fill="#1a1a1a" text-anchor="end" font-weight="normal" >12.4K</text><text x="49.7" y="400.15" font-size="7.8" fill="#1a1a1a" text-anchor="end" font-weight="normal" >14.2K</text><text transform="translate(59.4 485.05) rotate(-45)" font-size="7.85" fill="#1a1a1a" text-anchor="end">−6K</text><text transform="translate(71.76 485.05) rotate(-45)" font-size="7.85" fill="#1a1a1a" text-anchor="end">−4K</text><text transform="translate(84.12 485.05) rotate(-45)" font-size="7.85" fill="#1a1a1a" text-anchor="end">−2K</text><text transform="translate(93.38 485.5) rotate(-45)" font-size="7.85" fill="#1a1a1a" text-anchor="end">0</text><text transform="translate(107.34 484.8) rotate(-45)" font-size="7.85" fill="#1a1a1a" text-anchor="end">2K</text><text transform="translate(119.7 484.8) rotate(-45)" font-size="7.85" fill="#1a1a1a" text-anchor="end">4K</text><text transform="translate(132.06 484.8) rotate(-45)" font-size="7.85" fill="#1a1a1a" text-anchor="end">6K</text><text transform="translate(144.42 484.8) rotate(-45)" font-size="7.85" fill="#1a1a1a" text-anchor="end">8K</text><text transform="translate(158.38 484.2) rotate(-45)" font-size="7.85" fill="#1a1a1a" text-anchor="end">10K</text><text transform="translate(170.74 484.2) rotate(-45)" font-size="7.85" fill="#1a1a1a" text-anchor="end">12K</text><text transform="translate(116.9 506.8) scale(0.61 1)" font-size="10.3" font-weight="bold" fill="#222" text-anchor="middle">VIC</text><text transform="translate(25.8 436.5) rotate(-90) scale(0.7 1)" font-size="8.6" font-weight="bold" fill="#1a1a1a" stroke="#1a1a1a" stroke-width="0.1" text-anchor="middle">FAM</text><path d="M389.7 388.66V476.4M388.9 475.6H513.3M386.7 475.6H389.7M386.7 466.91H389.7M386.7 458.21H389.7M386.7 449.52H389.7M386.7 440.82H389.7M386.7 432.13H389.7M386.7 423.44H389.7M386.7 414.74H389.7M386.7 406.05H389.7M386.7 397.35H389.7M389.7 475.6V478.6M402.06 475.6V478.6M414.42 475.6V478.6M426.78 475.6V478.6M439.14 475.6V478.6M451.5 475.6V478.6M463.86 475.6V478.6M476.22 475.6V478.6M488.58 475.6V478.6M500.94 475.6V478.6" stroke="#222" stroke-width="1.4" fill="none"/><text x="384.3" y="478.4" font-size="7.8" fill="#1a1a1a" text-anchor="end" font-weight="normal" >−2K</text><text x="384.3" y="469.71" font-size="7.8" fill="#1a1a1a" text-anchor="end" font-weight="normal" >−0.2K</text><text x="384.3" y="461.01" font-size="7.8" fill="#1a1a1a" text-anchor="end" font-weight="normal" >1.6K</text><text x="384.3" y="452.32" font-size="7.8" fill="#1a1a1a" text-anchor="end" font-weight="normal" >3.4K</text><text x="384.3" y="443.62" font-size="7.8" fill="#1a1a1a" text-anchor="end" font-weight="normal" >5.2K</text><text x="384.3" y="434.93" font-size="7.8" fill="#1a1a1a" text-anchor="end" font-weight="normal" >7K</text><text x="384.3" y="426.24" font-size="7.8" fill="#1a1a1a" text-anchor="end" font-weight="normal" >8.8K</text><text x="384.3" y="417.54" font-size="7.8" fill="#1a1a1a" text-anchor="end" font-weight="normal" >10.6K</text><text x="384.3" y="408.85" font-size="7.8" fill="#1a1a1a" text-anchor="end" font-weight="normal" >12.4K</text><text x="384.3" y="400.15" font-size="7.8" fill="#1a1a1a" text-anchor="end" font-weight="normal" >14.2K</text><text transform="translate(394 485.05) rotate(-45)" font-size="7.85" fill="#1a1a1a" text-anchor="end">−6K</text><text transform="translate(406.36 485.05) rotate(-45)" font-size="7.85" fill="#1a1a1a" text-anchor="end">−4K</text><text transform="translate(418.72 485.05) rotate(-45)" font-size="7.85" fill="#1a1a1a" text-anchor="end">−2K</text><text transform="translate(427.98 485.5) rotate(-45)" font-size="7.85" fill="#1a1a1a" text-anchor="end">0</text><text transform="translate(441.94 484.8) rotate(-45)" font-size="7.85" fill="#1a1a1a" text-anchor="end">2K</text><text transform="translate(454.3 484.8) rotate(-45)" font-size="7.85" fill="#1a1a1a" text-anchor="end">4K</text><text transform="translate(466.66 484.8) rotate(-45)" font-size="7.85" fill="#1a1a1a" text-anchor="end">6K</text><text transform="translate(479.02 484.8) rotate(-45)" font-size="7.85" fill="#1a1a1a" text-anchor="end">8K</text><text transform="translate(492.98 484.2) rotate(-45)" font-size="7.85" fill="#1a1a1a" text-anchor="end">10K</text><text transform="translate(505.34 484.2) rotate(-45)" font-size="7.85" fill="#1a1a1a" text-anchor="end">12K</text><text transform="translate(451.5 506.8) scale(0.61 1)" font-size="10.3" font-weight="bold" fill="#222" text-anchor="middle">VIC</text><text transform="translate(360.4 432) rotate(-90) scale(0.7 1)" font-size="8.6" font-weight="bold" fill="#1a1a1a" stroke="#1a1a1a" stroke-width="0.1" text-anchor="middle">FAM</text><text transform="translate(116.9 225.6) scale(0.93 1)" font-size="6.35" text-anchor="middle" stroke-width="0.1"><tspan fill="#3469A6" stroke="#3469A6">FAM: 82 </tspan><tspan fill="#D42E46" stroke="#D42E46">VIC: 3752 </tspan><tspan fill="#45AA48" stroke="#45AA48">FAM+VIC: 59</tspan></text><text transform="translate(116.9 232.9) scale(0.93 1)" font-size="6.35" text-anchor="middle" stroke-width="0.1"><tspan fill="#262626" stroke="#262626">UNDETERMINED: 0 </tspan><tspan fill="#F2B21A" stroke="#F2B21A">NO-AMP: 9760</tspan></text><text transform="translate(284.4 225.6) scale(0.93 1)" font-size="6.35" text-anchor="middle" stroke-width="0.1"><tspan fill="#3469A6" stroke="#3469A6">FAM: 1569 </tspan><tspan fill="#D42E46" stroke="#D42E46">VIC: 2933 </tspan><tspan fill="#45AA48" stroke="#45AA48">FAM+VIC: 441</tspan></text><text transform="translate(284.4 232.9) scale(0.93 1)" font-size="6.35" text-anchor="middle" stroke-width="0.1"><tspan fill="#262626" stroke="#262626">UNDETERMINED: 0 </tspan><tspan fill="#F2B21A" stroke="#F2B21A">NO-AMP: 11314</tspan></text><text transform="translate(451.3 225.6) scale(0.93 1)" font-size="6.35" text-anchor="middle" stroke-width="0.1"><tspan fill="#3469A6" stroke="#3469A6">FAM: 133 </tspan><tspan fill="#D42E46" stroke="#D42E46">VIC: 5502 </tspan><tspan fill="#45AA48" stroke="#45AA48">FAM+VIC: 70</tspan></text><text transform="translate(451.3 232.9) scale(0.93 1)" font-size="6.35" text-anchor="middle" stroke-width="0.1"><tspan fill="#262626" stroke="#262626">UNDETERMINED: 0 </tspan><tspan fill="#F2B21A" stroke="#F2B21A">NO-AMP: 12216</tspan></text><text transform="translate(116.9 378) scale(0.93 1)" font-size="6.35" text-anchor="middle" stroke-width="0.1"><tspan fill="#3469A6" stroke="#3469A6">FAM: 238 </tspan><tspan fill="#D42E46" stroke="#D42E46">VIC: 5011 </tspan><tspan fill="#45AA48" stroke="#45AA48">FAM+VIC: 154</tspan></text><text transform="translate(116.9 385.3) scale(0.93 1)" font-size="6.35" text-anchor="middle" stroke-width="0.1"><tspan fill="#262626" stroke="#262626">UNDETERMINED: 0 </tspan><tspan fill="#F2B21A" stroke="#F2B21A">NO-AMP: 12003</tspan></text><text transform="translate(451.3 378) scale(0.93 1)" font-size="6.35" text-anchor="middle" stroke-width="0.1"><tspan fill="#3469A6" stroke="#3469A6">FAM: 98 </tspan><tspan fill="#D42E46" stroke="#D42E46">VIC: 3561 </tspan><tspan fill="#45AA48" stroke="#45AA48">FAM+VIC: 22</tspan></text><text transform="translate(451.3 385.3) scale(0.93 1)" font-size="6.35" text-anchor="middle" stroke-width="0.1"><tspan fill="#262626" stroke="#262626">UNDETERMINED: 0 </tspan><tspan fill="#F2B21A" stroke="#F2B21A">NO-AMP: 14374</tspan></text><rect x="186.6" y="389.6" width="159.6" height="86.8" fill="none" stroke="#2a2a2a" stroke-width="1.2"/><text transform="translate(266.3 430.5) scale(0.951 1)" font-size="9.25" fill="#1a1a1a" text-anchor="middle">No sample was available</text><text transform="translate(266.3 441.6) scale(0.951 1)" font-size="9.25" fill="#1a1a1a" text-anchor="middle">for <tspan font-style="italic">dPCR</tspan> analysis.</text><path d="M0 0H520V514H0ZM1.15 1.15V512.9H518.6V1.15Z" fill="#161414" fill-rule="evenodd"/></svg></body></html>
